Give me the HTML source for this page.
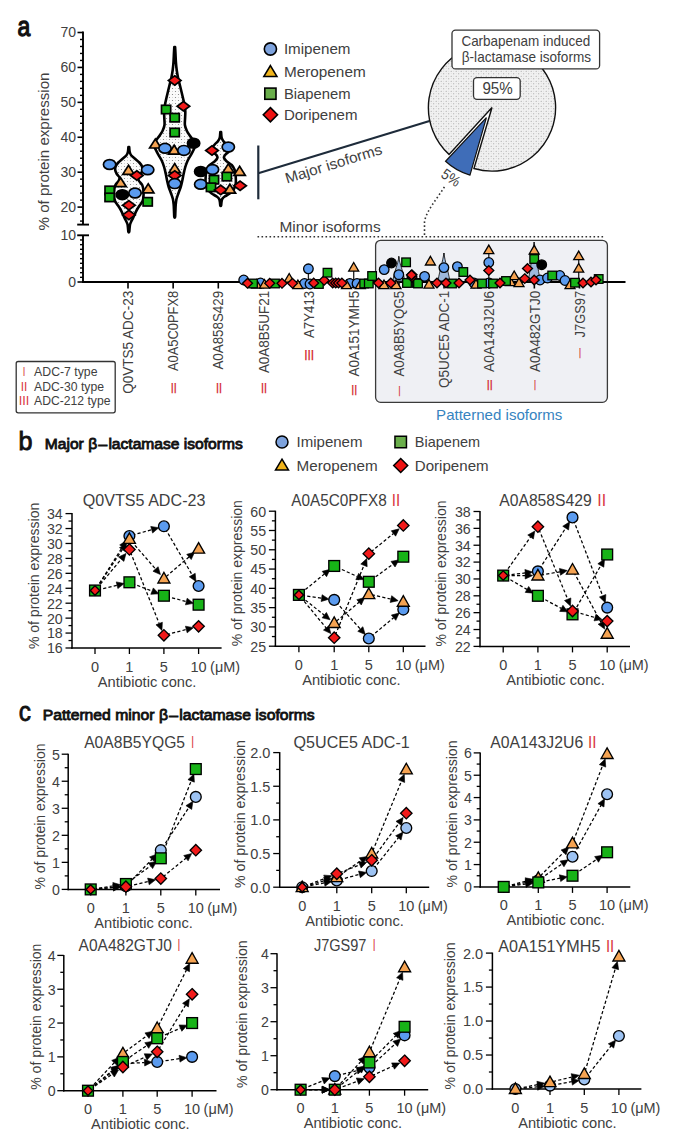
<!DOCTYPE html><html><head><meta charset="utf-8"><style>html,body{margin:0;padding:0;background:#fff;}svg{display:block;}text{font-family:"Liberation Sans",sans-serif;}</style></head><body>
<svg width="685" height="1140" viewBox="0 0 685 1140">
<defs><pattern id="vdots" width="6" height="6" patternUnits="userSpaceOnUse"><rect width="6" height="6" fill="#fbfbfb"/><circle cx="1.5" cy="1.5" r="0.6" fill="#7a7a7a"/><circle cx="4.5" cy="4.5" r="0.6" fill="#7a7a7a"/><circle cx="4.5" cy="1.5" r="0.45" fill="#b0b0b0"/><circle cx="1.5" cy="4.5" r="0.45" fill="#b0b0b0"/></pattern><pattern id="pdots" width="5" height="5" patternUnits="userSpaceOnUse"><rect width="5" height="5" fill="#f1f1f1"/><circle cx="1.2" cy="1.2" r="0.55" fill="#9a9a9a"/><circle cx="3.7" cy="3.7" r="0.55" fill="#9a9a9a"/><circle cx="3.7" cy="1.2" r="0.4" fill="#c4c4c4"/><circle cx="1.2" cy="3.7" r="0.4" fill="#c4c4c4"/></pattern></defs>
<rect width="685" height="1140" fill="#fff"/>
<rect x="375.6" y="240.3" width="231.8" height="162" rx="5" fill="#eff0f4" stroke="#3a3a3a" stroke-width="1.3"/>
<text x="436.1" y="419.9" font-size="14.8" fill="#3683c0" textLength="126.3" lengthAdjust="spacingAndGlyphs">Patterned isoforms</text>
<text x="17.6" y="36" font-size="28.5" fill="#111" textLength="12.8" lengthAdjust="spacingAndGlyphs" stroke="#111" stroke-width="1.3">a</text>
<line x1="257.5" y1="236.7" x2="605" y2="236.7" stroke="#333" stroke-width="1.6" stroke-dasharray="1.6,2.4"/>
<path d="M444.4,186.9 C437,199 426,211 424.5,222 L424.5,236" fill="none" stroke="#333" stroke-width="1.6" stroke-dasharray="1.6,2.4"/>
<text x="279.4" y="231.8" font-size="14.5" fill="#404040" textLength="101.3" lengthAdjust="spacingAndGlyphs">Minor isoforms</text>
<ellipse cx="270.4" cy="49" rx="6.1" ry="6.1" fill="#7ea3dd" stroke="#000" stroke-width="1.6"/>
<text x="283.9" y="54.2" font-size="14.7" fill="#404040" textLength="66.6" lengthAdjust="spacingAndGlyphs">Imipenem</text>
<polygon points="270.4,65.64 276.9,76.44 263.9,76.44" fill="#f0b41c" stroke="#000" stroke-width="1.6" stroke-linejoin="miter"/>
<text x="283.9" y="76.6" font-size="14.7" fill="#404040" textLength="81.8" lengthAdjust="spacingAndGlyphs">Meropenem</text>
<rect x="264.8" y="88.1" width="11.2" height="11.2" fill="#6aae4b" stroke="#000" stroke-width="1.6"/>
<text x="283.9" y="98.9" font-size="14.7" fill="#404040" textLength="66.6" lengthAdjust="spacingAndGlyphs">Biapenem</text>
<polygon points="270.4,107.6 277.5,114.7 270.4,121.8 263.3,114.7" fill="#ee1212" stroke="#000" stroke-width="1.6"/>
<text x="283.9" y="119.9" font-size="14.7" fill="#404040" textLength="73.6" lengthAdjust="spacingAndGlyphs">Doripenem</text>
<line x1="258.3" y1="145.5" x2="258.3" y2="199.3" stroke="#1e2b3a" stroke-width="2.2"/>
<line x1="258.3" y1="173.2" x2="429.5" y2="121" stroke="#1e2b3a" stroke-width="2.2"/>
<text x="287" y="183.5" font-size="14.8" fill="#404040" textLength="100.5" lengthAdjust="spacingAndGlyphs" transform="rotate(-17.2 287 183.5)">Major isoforms</text>
<path d="M492,107.5 L449.03,154.39 A63.6,63.6 0 1 1 473.94,168.48 Z" fill="url(#pdots)" stroke="#111" stroke-width="1.4" stroke-linejoin="miter"/>
<path d="M486.4,117.6 L445.56,161.28 A59.8,59.8 0 0 0 469.99,175.1 Z" fill="#3f6db8" stroke="#111" stroke-width="1.2" stroke-linejoin="miter"/>
<rect x="452.0" y="30.1" width="147.6" height="38.8" rx="3.5" fill="#fff" stroke="#333" stroke-width="1.3"/>
<text x="461.4" y="45.6" font-size="14.2" fill="#404040" textLength="128.9" lengthAdjust="spacingAndGlyphs">Carbapenam induced</text>
<text x="461.8" y="62.4" font-size="14.2" fill="#404040" textLength="129.2" lengthAdjust="spacingAndGlyphs">β-lactamase isoforms</text>
<rect x="473.5" y="77.6" width="46.7" height="21.7" rx="3.5" fill="#fff" stroke="#333" stroke-width="1.3"/>
<text x="482.4" y="93.9" font-size="16" fill="#404040" textLength="30.3" lengthAdjust="spacingAndGlyphs">95%</text>
<text x="440" y="176.5" font-size="15" fill="#404040" textLength="19.5" lengthAdjust="spacingAndGlyphs" transform="rotate(34 440 176.5)">5%</text>
<line x1="83" y1="31.6" x2="83" y2="224.6" stroke="#000" stroke-width="1.9"/>
<line x1="77.2" y1="224.6" x2="89" y2="224.6" stroke="#000" stroke-width="1.9"/>
<line x1="77.5" y1="32.5" x2="83" y2="32.5" stroke="#000" stroke-width="1.6"/>
<text x="76" y="37.4" font-size="14" fill="#404040" text-anchor="end" textLength="15.6" lengthAdjust="spacingAndGlyphs">70</text>
<line x1="80" y1="39.48" x2="83" y2="39.48" stroke="#000" stroke-width="1.4"/>
<line x1="80" y1="46.47" x2="83" y2="46.47" stroke="#000" stroke-width="1.4"/>
<line x1="80" y1="53.45" x2="83" y2="53.45" stroke="#000" stroke-width="1.4"/>
<line x1="80" y1="60.44" x2="83" y2="60.44" stroke="#000" stroke-width="1.4"/>
<line x1="77.5" y1="67.42" x2="83" y2="67.42" stroke="#000" stroke-width="1.6"/>
<text x="76" y="72.32" font-size="14" fill="#404040" text-anchor="end" textLength="15.6" lengthAdjust="spacingAndGlyphs">60</text>
<line x1="80" y1="74.4" x2="83" y2="74.4" stroke="#000" stroke-width="1.4"/>
<line x1="80" y1="81.39" x2="83" y2="81.39" stroke="#000" stroke-width="1.4"/>
<line x1="80" y1="88.37" x2="83" y2="88.37" stroke="#000" stroke-width="1.4"/>
<line x1="80" y1="95.36" x2="83" y2="95.36" stroke="#000" stroke-width="1.4"/>
<line x1="77.5" y1="102.34" x2="83" y2="102.34" stroke="#000" stroke-width="1.6"/>
<text x="76" y="107.24" font-size="14" fill="#404040" text-anchor="end" textLength="15.6" lengthAdjust="spacingAndGlyphs">50</text>
<line x1="80" y1="109.32" x2="83" y2="109.32" stroke="#000" stroke-width="1.4"/>
<line x1="80" y1="116.31" x2="83" y2="116.31" stroke="#000" stroke-width="1.4"/>
<line x1="80" y1="123.29" x2="83" y2="123.29" stroke="#000" stroke-width="1.4"/>
<line x1="80" y1="130.28" x2="83" y2="130.28" stroke="#000" stroke-width="1.4"/>
<line x1="77.5" y1="137.26" x2="83" y2="137.26" stroke="#000" stroke-width="1.6"/>
<text x="76" y="142.16" font-size="14" fill="#404040" text-anchor="end" textLength="15.6" lengthAdjust="spacingAndGlyphs">40</text>
<line x1="80" y1="144.24" x2="83" y2="144.24" stroke="#000" stroke-width="1.4"/>
<line x1="80" y1="151.23" x2="83" y2="151.23" stroke="#000" stroke-width="1.4"/>
<line x1="80" y1="158.21" x2="83" y2="158.21" stroke="#000" stroke-width="1.4"/>
<line x1="80" y1="165.2" x2="83" y2="165.2" stroke="#000" stroke-width="1.4"/>
<line x1="77.5" y1="172.18" x2="83" y2="172.18" stroke="#000" stroke-width="1.6"/>
<text x="76" y="177.08" font-size="14" fill="#404040" text-anchor="end" textLength="15.6" lengthAdjust="spacingAndGlyphs">30</text>
<line x1="80" y1="179.16" x2="83" y2="179.16" stroke="#000" stroke-width="1.4"/>
<line x1="80" y1="186.15" x2="83" y2="186.15" stroke="#000" stroke-width="1.4"/>
<line x1="80" y1="193.13" x2="83" y2="193.13" stroke="#000" stroke-width="1.4"/>
<line x1="80" y1="200.12" x2="83" y2="200.12" stroke="#000" stroke-width="1.4"/>
<line x1="77.5" y1="207.1" x2="83" y2="207.1" stroke="#000" stroke-width="1.6"/>
<text x="76" y="212" font-size="14" fill="#404040" text-anchor="end" textLength="15.6" lengthAdjust="spacingAndGlyphs">20</text>
<line x1="80" y1="214.08" x2="83" y2="214.08" stroke="#000" stroke-width="1.4"/>
<line x1="80" y1="221.07" x2="83" y2="221.07" stroke="#000" stroke-width="1.4"/>
<line x1="83" y1="235.3" x2="83" y2="282.9" stroke="#000" stroke-width="1.9"/>
<line x1="77.2" y1="235.3" x2="89" y2="235.3" stroke="#000" stroke-width="1.9"/>
<line x1="80" y1="277.33" x2="83" y2="277.33" stroke="#000" stroke-width="1.4"/>
<line x1="80" y1="272.66" x2="83" y2="272.66" stroke="#000" stroke-width="1.4"/>
<line x1="80" y1="267.99" x2="83" y2="267.99" stroke="#000" stroke-width="1.4"/>
<line x1="80" y1="263.32" x2="83" y2="263.32" stroke="#000" stroke-width="1.4"/>
<line x1="80" y1="258.65" x2="83" y2="258.65" stroke="#000" stroke-width="1.4"/>
<line x1="80" y1="253.98" x2="83" y2="253.98" stroke="#000" stroke-width="1.4"/>
<line x1="80" y1="249.31" x2="83" y2="249.31" stroke="#000" stroke-width="1.4"/>
<line x1="80" y1="244.64" x2="83" y2="244.64" stroke="#000" stroke-width="1.4"/>
<line x1="80" y1="239.97" x2="83" y2="239.97" stroke="#000" stroke-width="1.4"/>
<line x1="77.5" y1="282" x2="83" y2="282" stroke="#000" stroke-width="1.6"/>
<text x="76" y="240.2" font-size="14" fill="#404040" text-anchor="end" textLength="15.6" lengthAdjust="spacingAndGlyphs">10</text>
<text x="76" y="286.9" font-size="14" fill="#404040" text-anchor="end" textLength="7.8" lengthAdjust="spacingAndGlyphs">0</text>
<text x="48.6" y="151.5" font-size="15" fill="#404040" text-anchor="middle" textLength="158" lengthAdjust="spacingAndGlyphs" transform="rotate(-90 48.6 151.5)">% of protein expression</text>
<line x1="82" y1="282" x2="625.5" y2="282" stroke="#000" stroke-width="1.9"/>
<line x1="128" y1="282" x2="128" y2="288.5" stroke="#000" stroke-width="1.6"/>
<text x="133.2" y="290.8" font-size="14.3" fill="#404040" text-anchor="end" textLength="103" lengthAdjust="spacingAndGlyphs" transform="rotate(-90 133.2 290.8)">Q0VTS5 ADC-23</text>
<line x1="173.15" y1="282" x2="173.15" y2="288.5" stroke="#000" stroke-width="1.6"/>
<text x="178.35" y="290.8" font-size="14.3" fill="#404040" text-anchor="end" textLength="80.3" lengthAdjust="spacingAndGlyphs" transform="rotate(-90 178.35 290.8)">A0A5C0PFX8</text>
<text x="173.75" y="393.3" font-size="13.8" fill="#d42a2e" text-anchor="middle" textLength="6" lengthAdjust="spacingAndGlyphs" stroke="#d42a2e" stroke-width="0.25">II</text>
<line x1="218.3" y1="282" x2="218.3" y2="288.5" stroke="#000" stroke-width="1.6"/>
<text x="223.5" y="290.8" font-size="14.3" fill="#404040" text-anchor="end" textLength="78.8" lengthAdjust="spacingAndGlyphs" transform="rotate(-90 223.5 290.8)">A0A858S429</text>
<text x="218.9" y="393.3" font-size="13.8" fill="#d42a2e" text-anchor="middle" textLength="6" lengthAdjust="spacingAndGlyphs" stroke="#d42a2e" stroke-width="0.25">II</text>
<line x1="263.45" y1="282" x2="263.45" y2="288.5" stroke="#000" stroke-width="1.6"/>
<text x="268.65" y="290.8" font-size="14.3" fill="#404040" text-anchor="end" textLength="82.3" lengthAdjust="spacingAndGlyphs" transform="rotate(-90 268.65 290.8)">A0A8B5UF21</text>
<text x="264.05" y="393.4" font-size="13.8" fill="#d42a2e" text-anchor="middle" textLength="6" lengthAdjust="spacingAndGlyphs" stroke="#d42a2e" stroke-width="0.25">II</text>
<line x1="308.6" y1="282" x2="308.6" y2="288.5" stroke="#000" stroke-width="1.6"/>
<text x="313.8" y="290.8" font-size="14.3" fill="#404040" text-anchor="end" textLength="47.3" lengthAdjust="spacingAndGlyphs" transform="rotate(-90 313.8 290.8)">A7Y413</text>
<text x="309.2" y="360.2" font-size="13.8" fill="#d42a2e" text-anchor="middle" textLength="10" lengthAdjust="spacingAndGlyphs" stroke="#d42a2e" stroke-width="0.25">III</text>
<line x1="353.75" y1="282" x2="353.75" y2="288.5" stroke="#000" stroke-width="1.6"/>
<text x="358.95" y="290.8" font-size="14.3" fill="#404040" text-anchor="end" textLength="85.8" lengthAdjust="spacingAndGlyphs" transform="rotate(-90 358.95 290.8)">A0A151YMH5</text>
<text x="354.35" y="394.9" font-size="13.8" fill="#d42a2e" text-anchor="middle" textLength="6" lengthAdjust="spacingAndGlyphs" stroke="#d42a2e" stroke-width="0.25">II</text>
<line x1="398.9" y1="282" x2="398.9" y2="288.5" stroke="#000" stroke-width="1.6"/>
<text x="404.1" y="290.8" font-size="14.3" fill="#404040" text-anchor="end" textLength="85.8" lengthAdjust="spacingAndGlyphs" transform="rotate(-90 404.1 290.8)">A0A8B5YQG5</text>
<text x="399.5" y="396" font-size="13.8" fill="#d42a2e" text-anchor="middle" textLength="2" lengthAdjust="spacingAndGlyphs" stroke="#d42a2e" stroke-width="0.25">I</text>
<line x1="444.05" y1="282" x2="444.05" y2="288.5" stroke="#000" stroke-width="1.6"/>
<text x="449.25" y="290.8" font-size="14.3" fill="#404040" text-anchor="end" textLength="97.2" lengthAdjust="spacingAndGlyphs" transform="rotate(-90 449.25 290.8)">Q5UCE5 ADC-1</text>
<line x1="489.2" y1="282" x2="489.2" y2="288.5" stroke="#000" stroke-width="1.6"/>
<text x="494.4" y="290.8" font-size="14.3" fill="#404040" text-anchor="end" textLength="81.2" lengthAdjust="spacingAndGlyphs" transform="rotate(-90 494.4 290.8)">A0A143J2U6</text>
<text x="489.8" y="389.9" font-size="13.8" fill="#d42a2e" text-anchor="middle" textLength="6" lengthAdjust="spacingAndGlyphs" stroke="#d42a2e" stroke-width="0.25">II</text>
<line x1="534.35" y1="282" x2="534.35" y2="288.5" stroke="#000" stroke-width="1.6"/>
<text x="539.55" y="290.8" font-size="14.3" fill="#404040" text-anchor="end" textLength="81.2" lengthAdjust="spacingAndGlyphs" transform="rotate(-90 539.55 290.8)">A0A482GTJ0</text>
<text x="534.95" y="389.9" font-size="13.8" fill="#d42a2e" text-anchor="middle" textLength="2" lengthAdjust="spacingAndGlyphs" stroke="#d42a2e" stroke-width="0.25">I</text>
<line x1="579.5" y1="282" x2="579.5" y2="288.5" stroke="#000" stroke-width="1.6"/>
<text x="584.7" y="290.8" font-size="14.3" fill="#404040" text-anchor="end" textLength="46.6" lengthAdjust="spacingAndGlyphs" transform="rotate(-90 584.7 290.8)">J7GS97</text>
<text x="580.1" y="357.7" font-size="13.8" fill="#d42a2e" text-anchor="middle" textLength="2" lengthAdjust="spacingAndGlyphs" stroke="#d42a2e" stroke-width="0.25">I</text>
<rect x="16.2" y="361.5" width="99" height="51.3" rx="2" fill="#fff" stroke="#333" stroke-width="1.3"/>
<text x="24" y="375.9" font-size="12" fill="#d9363e" text-anchor="middle" textLength="2.6" lengthAdjust="spacingAndGlyphs">I</text>
<text x="34.1" y="375.9" font-size="12.3" fill="#404040" textLength="63.4" lengthAdjust="spacingAndGlyphs">ADC-7 type</text>
<text x="24" y="390.6" font-size="12" fill="#d9363e" text-anchor="middle" textLength="6.6" lengthAdjust="spacingAndGlyphs">II</text>
<text x="34.1" y="390.6" font-size="12.3" fill="#404040" textLength="69.9" lengthAdjust="spacingAndGlyphs">ADC-30 type</text>
<text x="24" y="405.3" font-size="12" fill="#d9363e" text-anchor="middle" textLength="10.6" lengthAdjust="spacingAndGlyphs">III</text>
<text x="34.1" y="405.3" font-size="12.3" fill="#404040" textLength="76.3" lengthAdjust="spacingAndGlyphs">ADC-212 type</text>
<path d="M129.2,147 C129.28,147.83 129.35,150.58 129.7,152 C130.05,153.42 130.37,154.33 131.3,155.5 C132.23,156.67 133.97,157.83 135.3,159 C136.63,160.17 138.22,161.33 139.3,162.5 C140.38,163.67 141.28,164.75 141.8,166 C142.32,167.25 142.57,168.67 142.4,170 C142.23,171.33 141.52,172.75 140.8,174 C140.08,175.25 138.4,176.33 138.1,177.5 C137.8,178.67 138.32,179.75 139,181 C139.68,182.25 141.47,183.5 142.2,185 C142.93,186.5 143.18,188.17 143.4,190 C143.62,191.83 143.63,194.17 143.5,196 C143.37,197.83 143.25,199.42 142.6,201 C141.95,202.58 140.57,204 139.6,205.5 C138.63,207 137.67,208.42 136.8,210 C135.93,211.58 135.2,213.33 134.4,215 C133.6,216.67 132.7,218.5 132,220 C131.3,221.5 130.6,222.67 130.2,224 C129.8,225.33 129.77,226.67 129.6,228 C129.43,229.33 129.4,231.33 129.2,232 C129,232.67 128.6,232.67 128.4,232 C128.2,231.33 128.17,229.33 128,228 C127.83,226.67 127.8,225.33 127.4,224 C127,222.67 126.3,221.5 125.6,220 C124.9,218.5 124,216.67 123.2,215 C122.4,213.33 121.67,211.58 120.8,210 C119.93,208.42 118.97,207 118,205.5 C117.03,204 115.65,202.58 115,201 C114.35,199.42 114.23,197.83 114.1,196 C113.97,194.17 113.98,191.83 114.2,190 C114.42,188.17 114.67,186.5 115.4,185 C116.13,183.5 117.92,182.25 118.6,181 C119.28,179.75 119.8,178.67 119.5,177.5 C119.2,176.33 117.52,175.25 116.8,174 C116.08,172.75 115.37,171.33 115.2,170 C115.03,168.67 115.28,167.25 115.8,166 C116.32,164.75 117.22,163.67 118.3,162.5 C119.38,161.33 120.97,160.17 122.3,159 C123.63,157.83 125.37,156.67 126.3,155.5 C127.23,154.33 127.55,153.42 127.9,152 C128.25,150.58 128.32,147.83 128.4,147 Z" fill="url(#vdots)" stroke="#000" stroke-width="2.6" stroke-linejoin="round"/>
<path d="M175.1,47 C175.17,48.17 175.37,51.5 175.5,54 C175.63,56.5 175.7,59.33 175.9,62 C176.1,64.67 176.33,67.33 176.7,70 C177.07,72.67 177.53,75.33 178.1,78 C178.67,80.67 179.37,83 180.1,86 C180.83,89 181.8,93 182.5,96 C183.2,99 183.83,101.5 184.3,104 C184.77,106.5 185.17,108.67 185.3,111 C185.43,113.33 185.17,115.67 185.1,118 C185.03,120.33 184.6,122.83 184.9,125 C185.2,127.17 186.03,129.17 186.9,131 C187.77,132.83 188.97,134.33 190.1,136 C191.23,137.67 192.85,139.42 193.7,141 C194.55,142.58 195.23,144 195.2,145.5 C195.17,147 194.22,148.42 193.5,150 C192.78,151.58 191.9,153.17 190.9,155 C189.9,156.83 188.43,159 187.5,161 C186.57,163 185.95,164.83 185.3,167 C184.65,169.17 184.12,171.67 183.6,174 C183.08,176.33 182.68,178.83 182.2,181 C181.72,183.17 181.32,185 180.7,187 C180.08,189 179.2,191 178.5,193 C177.8,195 176.97,197 176.5,199 C176.03,201 175.88,203 175.7,205 C175.52,207 175.5,209 175.4,211 C175.3,213 175.28,216 175.1,217 C174.92,218 174.48,218 174.3,217 C174.12,216 174.1,213 174,211 C173.9,209 173.88,207 173.7,205 C173.52,203 173.37,201 172.9,199 C172.43,197 171.6,195 170.9,193 C170.2,191 169.32,189 168.7,187 C168.08,185 167.68,183.17 167.2,181 C166.72,178.83 166.32,176.33 165.8,174 C165.28,171.67 164.75,169.17 164.1,167 C163.45,164.83 162.83,163 161.9,161 C160.97,159 159.5,156.83 158.5,155 C157.5,153.17 156.62,151.58 155.9,150 C155.18,148.42 154.23,147 154.2,145.5 C154.17,144 154.85,142.58 155.7,141 C156.55,139.42 158.17,137.67 159.3,136 C160.43,134.33 161.63,132.83 162.5,131 C163.37,129.17 164.2,127.17 164.5,125 C164.8,122.83 164.37,120.33 164.3,118 C164.23,115.67 163.97,113.33 164.1,111 C164.23,108.67 164.63,106.5 165.1,104 C165.57,101.5 166.2,99 166.9,96 C167.6,93 168.57,89 169.3,86 C170.03,83 170.73,80.67 171.3,78 C171.87,75.33 172.33,72.67 172.7,70 C173.07,67.33 173.3,64.67 173.5,62 C173.7,59.33 173.77,56.5 173.9,54 C174.03,51.5 174.23,48.17 174.3,47 Z" fill="url(#vdots)" stroke="#000" stroke-width="2.6" stroke-linejoin="round"/>
<path d="M221.1,132 C221.18,132.92 221.23,136 221.6,137.5 C221.97,139 222.45,139.83 223.3,141 C224.15,142.17 225.73,143.33 226.7,144.5 C227.67,145.67 228.77,146.83 229.1,148 C229.43,149.17 229.3,150.42 228.7,151.5 C228.1,152.58 226.3,153.5 225.5,154.5 C224.7,155.5 223.77,156.42 223.9,157.5 C224.03,158.58 225,159.75 226.3,161 C227.6,162.25 230.3,163.5 231.7,165 C233.1,166.5 234.03,168.17 234.7,170 C235.37,171.83 235.53,173.67 235.7,176 C235.87,178.33 236.03,181.75 235.7,184 C235.37,186.25 234.7,187.92 233.7,189.5 C232.7,191.08 231.2,192.33 229.7,193.5 C228.2,194.67 225.95,195.58 224.7,196.5 C223.45,197.42 222.73,198.08 222.2,199 C221.67,199.92 221.68,200.92 221.5,202 C221.32,203.08 221.3,204.92 221.1,205.5 C220.9,206.08 220.5,206.08 220.3,205.5 C220.1,204.92 220.08,203.08 219.9,202 C219.72,200.92 219.73,199.92 219.2,199 C218.67,198.08 217.95,197.42 216.7,196.5 C215.45,195.58 213.2,194.67 211.7,193.5 C210.2,192.33 208.7,191.08 207.7,189.5 C206.7,187.92 206.03,186.25 205.7,184 C205.37,181.75 205.53,178.33 205.7,176 C205.87,173.67 206.03,171.83 206.7,170 C207.37,168.17 208.3,166.5 209.7,165 C211.1,163.5 213.8,162.25 215.1,161 C216.4,159.75 217.37,158.58 217.5,157.5 C217.63,156.42 216.7,155.5 215.9,154.5 C215.1,153.5 213.3,152.58 212.7,151.5 C212.1,150.42 211.97,149.17 212.3,148 C212.63,146.83 213.73,145.67 214.7,144.5 C215.67,143.33 217.25,142.17 218.1,141 C218.95,139.83 219.43,139 219.8,137.5 C220.17,136 220.22,132.92 220.3,132 Z" fill="url(#vdots)" stroke="#000" stroke-width="2.6" stroke-linejoin="round"/>
<ellipse cx="109.6" cy="164.5" rx="6.15" ry="4.9" fill="#5b9bef" stroke="#000" stroke-width="1.7"/>
<ellipse cx="147.7" cy="169.8" rx="6.15" ry="4.9" fill="#5b9bef" stroke="#000" stroke-width="1.7"/>
<polygon points="128.5,165.28 134.2,174.28 122.8,174.28" fill="#f5a352" stroke="#000" stroke-width="1.7" stroke-linejoin="miter"/>
<polygon points="136.8,170.8 143.1,175.5 136.8,180.2 130.5,175.5" fill="#f21a1a" stroke="#000" stroke-width="1.7"/>
<polygon points="120.6,177.68 126.3,186.68 114.9,186.68" fill="#f5a352" stroke="#000" stroke-width="1.7" stroke-linejoin="miter"/>
<polygon points="148.2,183.78 153.9,192.78 142.5,192.78" fill="#f5a352" stroke="#000" stroke-width="1.7" stroke-linejoin="miter"/>
<rect x="105" y="186.2" width="9.2" height="8.4" fill="#17b317" stroke="#000" stroke-width="1.7"/>
<rect x="105" y="193.2" width="9.2" height="8.4" fill="#17b317" stroke="#000" stroke-width="1.7"/>
<ellipse cx="122.3" cy="194.7" rx="6.15" ry="4.9" fill="#000000" stroke="#000" stroke-width="1.7"/>
<ellipse cx="135" cy="193" rx="6.15" ry="4.9" fill="#5b9bef" stroke="#000" stroke-width="1.7"/>
<rect x="143.1" y="197.6" width="9.2" height="8.4" fill="#17b317" stroke="#000" stroke-width="1.7"/>
<polygon points="128.9,200.6 135.2,205.3 128.9,210 122.6,205.3" fill="#f21a1a" stroke="#000" stroke-width="1.7"/>
<polygon points="128.9,210.2 135.2,214.9 128.9,219.6 122.6,214.9" fill="#f21a1a" stroke="#000" stroke-width="1.7"/>
<polygon points="174.7,75.7 181,80.4 174.7,85.1 168.4,80.4" fill="#f21a1a" stroke="#000" stroke-width="1.7"/>
<polygon points="183.4,101.5 189.7,106.2 183.4,110.9 177.1,106.2" fill="#f21a1a" stroke="#000" stroke-width="1.7"/>
<rect x="161.5" y="105.3" width="9.2" height="8.4" fill="#17b317" stroke="#000" stroke-width="1.7"/>
<rect x="170.1" y="113.5" width="9.2" height="8.4" fill="#17b317" stroke="#000" stroke-width="1.7"/>
<rect x="170.1" y="128.3" width="9.2" height="8.4" fill="#17b317" stroke="#000" stroke-width="1.7"/>
<polygon points="155.3,138.98 161,147.98 149.6,147.98" fill="#f5a352" stroke="#000" stroke-width="1.7" stroke-linejoin="miter"/>
<ellipse cx="165" cy="148.3" rx="6.15" ry="4.9" fill="#5b9bef" stroke="#000" stroke-width="1.7"/>
<polygon points="174.2,145.18 179.9,154.18 168.5,154.18" fill="#f5a352" stroke="#000" stroke-width="1.7" stroke-linejoin="miter"/>
<ellipse cx="183.9" cy="150.4" rx="6.15" ry="4.9" fill="#5b9bef" stroke="#000" stroke-width="1.7"/>
<ellipse cx="193.6" cy="143.2" rx="6.15" ry="4.9" fill="#000000" stroke="#000" stroke-width="1.7"/>
<polygon points="174.7,163.58 180.4,172.58 169,172.58" fill="#f5a352" stroke="#000" stroke-width="1.7" stroke-linejoin="miter"/>
<polygon points="174.7,170.7 181,175.4 174.7,180.1 168.4,175.4" fill="#f21a1a" stroke="#000" stroke-width="1.7"/>
<ellipse cx="174.7" cy="183.6" rx="6.15" ry="4.9" fill="#5b9bef" stroke="#000" stroke-width="1.7"/>
<polygon points="212,145.8 218.3,150.5 212,155.2 205.7,150.5" fill="#f21a1a" stroke="#000" stroke-width="1.7"/>
<ellipse cx="228.3" cy="147" rx="6.15" ry="4.9" fill="#5b9bef" stroke="#000" stroke-width="1.7"/>
<ellipse cx="200.7" cy="171.5" rx="6.15" ry="4.9" fill="#000000" stroke="#000" stroke-width="1.7"/>
<ellipse cx="212.5" cy="169.5" rx="6.15" ry="4.9" fill="#5b9bef" stroke="#000" stroke-width="1.7"/>
<polygon points="228.3,163.78 234,172.78 222.6,172.78" fill="#f5a352" stroke="#000" stroke-width="1.7" stroke-linejoin="miter"/>
<polygon points="239.6,166.28 245.3,175.28 233.9,175.28" fill="#f5a352" stroke="#000" stroke-width="1.7" stroke-linejoin="miter"/>
<rect x="222.2" y="172.4" width="9.2" height="8.4" fill="#17b317" stroke="#000" stroke-width="1.7"/>
<rect x="209.4" y="175.5" width="9.2" height="8.4" fill="#17b317" stroke="#000" stroke-width="1.7"/>
<ellipse cx="200.7" cy="184.3" rx="6.15" ry="4.9" fill="#5b9bef" stroke="#000" stroke-width="1.7"/>
<rect x="206.4" y="183.1" width="9.2" height="8.4" fill="#17b317" stroke="#000" stroke-width="1.7"/>
<polygon points="220.7,185.2 227,189.9 220.7,194.6 214.4,189.9" fill="#f21a1a" stroke="#000" stroke-width="1.7"/>
<polygon points="229.9,184.18 235.6,193.18 224.2,193.18" fill="#f5a352" stroke="#000" stroke-width="1.7" stroke-linejoin="miter"/>
<polygon points="240.1,181.1 246.4,185.8 240.1,190.5 233.8,185.8" fill="#f21a1a" stroke="#000" stroke-width="1.7"/>
<line x1="308.4" y1="268.8" x2="308.4" y2="284" stroke="#222" stroke-width="1.3"/>
<line x1="353.7" y1="267.5" x2="353.7" y2="284" stroke="#222" stroke-width="1.3"/>
<line x1="398.8" y1="256" x2="398.8" y2="284" stroke="#222" stroke-width="1.3"/>
<line x1="443.9" y1="253" x2="443.9" y2="284" stroke="#222" stroke-width="1.3"/>
<line x1="488.8" y1="246" x2="488.8" y2="284" stroke="#222" stroke-width="1.3"/>
<line x1="534.2" y1="242" x2="534.2" y2="284" stroke="#222" stroke-width="1.3"/>
<line x1="578.7" y1="252" x2="578.7" y2="284" stroke="#222" stroke-width="1.3"/>
<path d="M398.8,257 C399.8,265 402.8,269.43 404.8,281 L392.8,281 C394.8,269.43 397.8,265 398.8,257 Z" fill="#9db8dc" stroke="#222" stroke-width="0.9"/>
<path d="M443.9,253 C444.9,261 447.9,269.57 449.9,281 L437.9,281 C439.9,269.57 442.9,261 443.9,253 Z" fill="#9db8dc" stroke="#222" stroke-width="0.9"/>
<path d="M534.2,242 C535.2,250 538.2,269.93 540.2,281 L528.2,281 C530.2,269.93 533.2,250 534.2,242 Z" fill="#9db8dc" stroke="#222" stroke-width="0.9"/>
<ellipse cx="243.7" cy="280" rx="4.8" ry="4.8" fill="#5b9bef" stroke="#000" stroke-width="1.3"/>
<ellipse cx="260.5" cy="283" rx="4.8" ry="4.8" fill="#5b9bef" stroke="#000" stroke-width="1.3"/>
<ellipse cx="304.5" cy="283.5" rx="4.8" ry="4.8" fill="#5b9bef" stroke="#000" stroke-width="1.3"/>
<ellipse cx="310" cy="284" rx="4.8" ry="4.8" fill="#5b9bef" stroke="#000" stroke-width="1.3"/>
<ellipse cx="349.8" cy="283.5" rx="4.8" ry="4.8" fill="#5b9bef" stroke="#000" stroke-width="1.3"/>
<ellipse cx="357" cy="283.5" rx="4.8" ry="4.8" fill="#5b9bef" stroke="#000" stroke-width="1.3"/>
<ellipse cx="474" cy="283" rx="4.8" ry="4.8" fill="#5b9bef" stroke="#000" stroke-width="1.3"/>
<ellipse cx="489" cy="283" rx="4.8" ry="4.8" fill="#5b9bef" stroke="#000" stroke-width="1.3"/>
<ellipse cx="540" cy="280" rx="4.8" ry="4.8" fill="#5b9bef" stroke="#000" stroke-width="1.3"/>
<ellipse cx="547.5" cy="278" rx="4.8" ry="4.8" fill="#5b9bef" stroke="#000" stroke-width="1.3"/>
<ellipse cx="559.8" cy="275.5" rx="4.8" ry="4.8" fill="#5b9bef" stroke="#000" stroke-width="1.3"/>
<ellipse cx="565" cy="280.5" rx="4.8" ry="4.8" fill="#5b9bef" stroke="#000" stroke-width="1.3"/>
<polygon points="256.5,279.51 261.5,288.11 251.5,288.11" fill="#f5a352" stroke="#000" stroke-width="1.3" stroke-linejoin="miter"/>
<polygon points="264.5,279.51 269.5,288.11 259.5,288.11" fill="#f5a352" stroke="#000" stroke-width="1.3" stroke-linejoin="miter"/>
<polygon points="289.2,273.51 294.2,282.11 284.2,282.11" fill="#f5a352" stroke="#000" stroke-width="1.3" stroke-linejoin="miter"/>
<polygon points="297.9,280.01 302.9,288.61 292.9,288.61" fill="#f5a352" stroke="#000" stroke-width="1.3" stroke-linejoin="miter"/>
<polygon points="346.5,280.01 351.5,288.61 341.5,288.61" fill="#f5a352" stroke="#000" stroke-width="1.3" stroke-linejoin="miter"/>
<polygon points="360.3,280.01 365.3,288.61 355.3,288.61" fill="#f5a352" stroke="#000" stroke-width="1.3" stroke-linejoin="miter"/>
<polygon points="384,280.01 389,288.61 379,288.61" fill="#f5a352" stroke="#000" stroke-width="1.3" stroke-linejoin="miter"/>
<polygon points="396,280.01 401,288.61 391,288.61" fill="#f5a352" stroke="#000" stroke-width="1.3" stroke-linejoin="miter"/>
<polygon points="429,279.51 434,288.11 424,288.11" fill="#f5a352" stroke="#000" stroke-width="1.3" stroke-linejoin="miter"/>
<polygon points="476,279.51 481,288.11 471,288.11" fill="#f5a352" stroke="#000" stroke-width="1.3" stroke-linejoin="miter"/>
<polygon points="510.5,277.01 515.5,285.61 505.5,285.61" fill="#f5a352" stroke="#000" stroke-width="1.3" stroke-linejoin="miter"/>
<polygon points="514.2,271.01 519.2,279.61 509.2,279.61" fill="#f5a352" stroke="#000" stroke-width="1.3" stroke-linejoin="miter"/>
<polygon points="519,278.01 524,286.61 514,286.61" fill="#f5a352" stroke="#000" stroke-width="1.3" stroke-linejoin="miter"/>
<polygon points="570,280.01 575,288.61 565,288.61" fill="#f5a352" stroke="#000" stroke-width="1.3" stroke-linejoin="miter"/>
<rect x="248.7" y="279.2" width="8.6" height="8.6" fill="#17b317" stroke="#000" stroke-width="1.3"/>
<rect x="270.7" y="279.2" width="8.6" height="8.6" fill="#17b317" stroke="#000" stroke-width="1.3"/>
<rect x="314.6" y="279.7" width="8.6" height="8.6" fill="#17b317" stroke="#000" stroke-width="1.3"/>
<rect x="359.9" y="279.2" width="8.6" height="8.6" fill="#17b317" stroke="#000" stroke-width="1.3"/>
<rect x="364.5" y="279.2" width="8.6" height="8.6" fill="#17b317" stroke="#000" stroke-width="1.3"/>
<rect x="402.7" y="278.7" width="8.6" height="8.6" fill="#17b317" stroke="#000" stroke-width="1.3"/>
<rect x="412.7" y="278.7" width="8.6" height="8.6" fill="#17b317" stroke="#000" stroke-width="1.3"/>
<rect x="413.7" y="279.2" width="8.6" height="8.6" fill="#17b317" stroke="#000" stroke-width="1.3"/>
<rect x="447.7" y="279.2" width="8.6" height="8.6" fill="#17b317" stroke="#000" stroke-width="1.3"/>
<rect x="477.7" y="279.2" width="8.6" height="8.6" fill="#17b317" stroke="#000" stroke-width="1.3"/>
<rect x="488.7" y="279.2" width="8.6" height="8.6" fill="#17b317" stroke="#000" stroke-width="1.3"/>
<rect x="501.7" y="276.7" width="8.6" height="8.6" fill="#17b317" stroke="#000" stroke-width="1.3"/>
<rect x="547.9" y="271.2" width="8.6" height="8.6" fill="#17b317" stroke="#000" stroke-width="1.3"/>
<rect x="570.7" y="278.4" width="8.6" height="8.6" fill="#17b317" stroke="#000" stroke-width="1.3"/>
<rect x="594.4" y="274.7" width="8.6" height="8.6" fill="#17b317" stroke="#000" stroke-width="1.3"/>
<polygon points="247.5,278.5 252.5,283.3 247.5,288.1 242.5,283.3" fill="#f21a1a" stroke="#000" stroke-width="1.3"/>
<polygon points="269.7,278.5 274.7,283.3 269.7,288.1 264.7,283.3" fill="#f21a1a" stroke="#000" stroke-width="1.3"/>
<polygon points="282,278.5 287,283.3 282,288.1 277,283.3" fill="#f21a1a" stroke="#000" stroke-width="1.3"/>
<polygon points="292.5,278.5 297.5,283.3 292.5,288.1 287.5,283.3" fill="#f21a1a" stroke="#000" stroke-width="1.3"/>
<polygon points="313.7,278.2 318.7,283 313.7,287.8 308.7,283" fill="#f21a1a" stroke="#000" stroke-width="1.3"/>
<polygon points="324.2,275.5 329.2,280.3 324.2,285.1 319.2,280.3" fill="#f21a1a" stroke="#000" stroke-width="1.3"/>
<polygon points="332.7,278.2 337.7,283 332.7,287.8 327.7,283" fill="#f21a1a" stroke="#000" stroke-width="1.3"/>
<polygon points="335.7,278.2 340.7,283 335.7,287.8 330.7,283" fill="#f21a1a" stroke="#000" stroke-width="1.3"/>
<polygon points="338.5,278.2 343.5,283 338.5,287.8 333.5,283" fill="#f21a1a" stroke="#000" stroke-width="1.3"/>
<polygon points="341.9,278.2 346.9,283 341.9,287.8 336.9,283" fill="#f21a1a" stroke="#000" stroke-width="1.3"/>
<polygon points="378.5,278.2 383.5,283 378.5,287.8 373.5,283" fill="#f21a1a" stroke="#000" stroke-width="1.3"/>
<polygon points="390.8,278.2 395.8,283 390.8,287.8 385.8,283" fill="#f21a1a" stroke="#000" stroke-width="1.3"/>
<polygon points="412,272.2 417,277 412,281.8 407,277" fill="#f21a1a" stroke="#000" stroke-width="1.3"/>
<polygon points="437,278.2 442,283 437,287.8 432,283" fill="#f21a1a" stroke="#000" stroke-width="1.3"/>
<polygon points="446,278.2 451,283 446,287.8 441,283" fill="#f21a1a" stroke="#000" stroke-width="1.3"/>
<polygon points="459,278.2 464,283 459,287.8 454,283" fill="#f21a1a" stroke="#000" stroke-width="1.3"/>
<polygon points="470,275.2 475,280 470,284.8 465,280" fill="#f21a1a" stroke="#000" stroke-width="1.3"/>
<polygon points="500,278.2 505,283 500,287.8 495,283" fill="#f21a1a" stroke="#000" stroke-width="1.3"/>
<polygon points="524.7,273.8 529.7,278.6 524.7,283.4 519.7,278.6" fill="#f21a1a" stroke="#000" stroke-width="1.3"/>
<polygon points="534.2,275.2 539.2,280 534.2,284.8 529.2,280" fill="#f21a1a" stroke="#000" stroke-width="1.3"/>
<polygon points="583,278.2 588,283 583,287.8 578,283" fill="#f21a1a" stroke="#000" stroke-width="1.3"/>
<polygon points="591,277.2 596,282 591,286.8 586,282" fill="#f21a1a" stroke="#000" stroke-width="1.3"/>
<polygon points="596,275.2 601,280 596,284.8 591,280" fill="#f21a1a" stroke="#000" stroke-width="1.3"/>
<ellipse cx="308.4" cy="268.8" rx="4.8" ry="4.8" fill="#5b9bef" stroke="#000" stroke-width="1.3"/>
<polygon points="353.7,262.51 358.7,271.11 348.7,271.11" fill="#f5a352" stroke="#000" stroke-width="1.3" stroke-linejoin="miter"/>
<rect x="323.2" y="268.4" width="8.6" height="8.6" fill="#17b317" stroke="#000" stroke-width="1.3"/>
<rect x="367.8" y="271.7" width="8.6" height="8.6" fill="#17b317" stroke="#000" stroke-width="1.3"/>
<ellipse cx="384.2" cy="269.6" rx="4.8" ry="4.8" fill="#5b9bef" stroke="#000" stroke-width="1.3"/>
<ellipse cx="391.5" cy="263" rx="4.8" ry="4.8" fill="#000000" stroke="#000" stroke-width="1.3"/>
<rect x="401.8" y="258" width="8.6" height="8.6" fill="#17b317" stroke="#000" stroke-width="1.3"/>
<ellipse cx="398.8" cy="274.7" rx="4.8" ry="4.8" fill="#5b9bef" stroke="#000" stroke-width="1.3"/>
<polygon points="412,269.9 417,274.7 412,279.5 407,274.7" fill="#f21a1a" stroke="#000" stroke-width="1.3"/>
<polygon points="430.4,256.41 435.4,265.01 425.4,265.01" fill="#f5a352" stroke="#000" stroke-width="1.3" stroke-linejoin="miter"/>
<ellipse cx="443.9" cy="267.6" rx="4.8" ry="4.8" fill="#5b9bef" stroke="#000" stroke-width="1.3"/>
<ellipse cx="457.4" cy="266.6" rx="4.8" ry="4.8" fill="#5b9bef" stroke="#000" stroke-width="1.3"/>
<rect x="459" y="267.7" width="8.6" height="8.6" fill="#17b317" stroke="#000" stroke-width="1.3"/>
<ellipse cx="424.6" cy="276.4" rx="4.8" ry="4.8" fill="#5b9bef" stroke="#000" stroke-width="1.3"/>
<polygon points="411.5,270.2 416.5,275 411.5,279.8 406.5,275" fill="#f21a1a" stroke="#000" stroke-width="1.3"/>
<polygon points="488.8,245.11 493.8,253.71 483.8,253.71" fill="#f5a352" stroke="#000" stroke-width="1.3" stroke-linejoin="miter"/>
<ellipse cx="488.8" cy="262.5" rx="4.8" ry="4.8" fill="#5b9bef" stroke="#000" stroke-width="1.3"/>
<polygon points="488.8,265.7 493.8,270.5 488.8,275.3 483.8,270.5" fill="#f21a1a" stroke="#000" stroke-width="1.3"/>
<polygon points="534.2,245.41 539.2,254.01 529.2,254.01" fill="#f5a352" stroke="#000" stroke-width="1.3" stroke-linejoin="miter"/>
<rect x="529.9" y="254.7" width="8.6" height="8.6" fill="#17b317" stroke="#000" stroke-width="1.3"/>
<ellipse cx="541.7" cy="264.7" rx="4.8" ry="4.8" fill="#000000" stroke="#000" stroke-width="1.3"/>
<polygon points="527.5,263.7 532.5,268.5 527.5,273.3 522.5,268.5" fill="#f21a1a" stroke="#000" stroke-width="1.3"/>
<polygon points="578.7,251.11 583.7,259.71 573.7,259.71" fill="#f5a352" stroke="#000" stroke-width="1.3" stroke-linejoin="miter"/>
<polygon points="578.7,263.51 583.7,272.11 573.7,272.11" fill="#f5a352" stroke="#000" stroke-width="1.3" stroke-linejoin="miter"/>
<text x="18.6" y="449.6" font-size="25.5" fill="#111" textLength="14" lengthAdjust="spacingAndGlyphs" stroke="#111" stroke-width="0.9">b</text>
<text x="44.8" y="449.4" font-size="15.2" fill="#111" textLength="198" lengthAdjust="spacingAndGlyphs" stroke="#111" stroke-width="0.85">Major β – lactamase isoforms</text>
<ellipse cx="282" cy="442" rx="6" ry="6" fill="#7ea3dd" stroke="#000" stroke-width="1.5"/>
<polygon points="282,459.12 288.5,470.12 275.5,470.12" fill="#f0b41c" stroke="#000" stroke-width="1.5" stroke-linejoin="miter"/>
<rect x="394.95" y="436.25" width="11.5" height="11.5" fill="#6aae4b" stroke="#000" stroke-width="1.5"/>
<polygon points="400.7,458.5 407.7,465.5 400.7,472.5 393.7,465.5" fill="#ee1212" stroke="#000" stroke-width="1.5"/>
<text x="296.5" y="447" font-size="14.6" fill="#404040" textLength="66" lengthAdjust="spacingAndGlyphs">Imipenem</text>
<text x="296.5" y="470.5" font-size="14.6" fill="#404040" textLength="81.2" lengthAdjust="spacingAndGlyphs">Meropenem</text>
<text x="414.8" y="447" font-size="14.6" fill="#404040" textLength="65.3" lengthAdjust="spacingAndGlyphs">Biapenem</text>
<text x="414.8" y="470.5" font-size="14.6" fill="#404040" textLength="73.8" lengthAdjust="spacingAndGlyphs">Doripenem</text>
<text x="18.8" y="721.3" font-size="27.5" fill="#111" textLength="12.2" lengthAdjust="spacingAndGlyphs" stroke="#111" stroke-width="0.8">c</text>
<text x="42.7" y="719.8" font-size="15.2" fill="#111" textLength="272" lengthAdjust="spacingAndGlyphs" stroke="#111" stroke-width="0.85">Patterned minor β – lactamase isoforms</text>
<line x1="72" y1="513.1" x2="72" y2="648.8" stroke="#000" stroke-width="1.5"/>
<line x1="71.3" y1="648" x2="221.6" y2="648" stroke="#000" stroke-width="1.5"/>
<line x1="65.5" y1="648" x2="72" y2="648" stroke="#000" stroke-width="1.3"/>
<text x="62.7" y="653.4" font-size="15.3" fill="#404040" text-anchor="end" textLength="15.8" lengthAdjust="spacingAndGlyphs">16</text>
<line x1="68.5" y1="640.53" x2="72" y2="640.53" stroke="#000" stroke-width="1.3"/>
<line x1="65.5" y1="633.07" x2="72" y2="633.07" stroke="#000" stroke-width="1.3"/>
<text x="62.7" y="638.47" font-size="15.3" fill="#404040" text-anchor="end" textLength="15.8" lengthAdjust="spacingAndGlyphs">18</text>
<line x1="68.5" y1="625.6" x2="72" y2="625.6" stroke="#000" stroke-width="1.3"/>
<line x1="65.5" y1="618.13" x2="72" y2="618.13" stroke="#000" stroke-width="1.3"/>
<text x="62.7" y="623.53" font-size="15.3" fill="#404040" text-anchor="end" textLength="15.8" lengthAdjust="spacingAndGlyphs">20</text>
<line x1="68.5" y1="610.67" x2="72" y2="610.67" stroke="#000" stroke-width="1.3"/>
<line x1="65.5" y1="603.2" x2="72" y2="603.2" stroke="#000" stroke-width="1.3"/>
<text x="62.7" y="608.6" font-size="15.3" fill="#404040" text-anchor="end" textLength="15.8" lengthAdjust="spacingAndGlyphs">22</text>
<line x1="68.5" y1="595.73" x2="72" y2="595.73" stroke="#000" stroke-width="1.3"/>
<line x1="65.5" y1="588.27" x2="72" y2="588.27" stroke="#000" stroke-width="1.3"/>
<text x="62.7" y="593.67" font-size="15.3" fill="#404040" text-anchor="end" textLength="15.8" lengthAdjust="spacingAndGlyphs">24</text>
<line x1="68.5" y1="580.8" x2="72" y2="580.8" stroke="#000" stroke-width="1.3"/>
<line x1="65.5" y1="573.33" x2="72" y2="573.33" stroke="#000" stroke-width="1.3"/>
<text x="62.7" y="578.73" font-size="15.3" fill="#404040" text-anchor="end" textLength="15.8" lengthAdjust="spacingAndGlyphs">26</text>
<line x1="68.5" y1="565.87" x2="72" y2="565.87" stroke="#000" stroke-width="1.3"/>
<line x1="65.5" y1="558.4" x2="72" y2="558.4" stroke="#000" stroke-width="1.3"/>
<text x="62.7" y="563.8" font-size="15.3" fill="#404040" text-anchor="end" textLength="15.8" lengthAdjust="spacingAndGlyphs">28</text>
<line x1="68.5" y1="550.93" x2="72" y2="550.93" stroke="#000" stroke-width="1.3"/>
<line x1="65.5" y1="543.47" x2="72" y2="543.47" stroke="#000" stroke-width="1.3"/>
<text x="62.7" y="548.87" font-size="15.3" fill="#404040" text-anchor="end" textLength="15.8" lengthAdjust="spacingAndGlyphs">30</text>
<line x1="68.5" y1="536" x2="72" y2="536" stroke="#000" stroke-width="1.3"/>
<line x1="65.5" y1="528.53" x2="72" y2="528.53" stroke="#000" stroke-width="1.3"/>
<text x="62.7" y="533.93" font-size="15.3" fill="#404040" text-anchor="end" textLength="15.8" lengthAdjust="spacingAndGlyphs">32</text>
<line x1="68.5" y1="521.07" x2="72" y2="521.07" stroke="#000" stroke-width="1.3"/>
<line x1="65.5" y1="513.6" x2="72" y2="513.6" stroke="#000" stroke-width="1.3"/>
<text x="62.7" y="519" font-size="15.3" fill="#404040" text-anchor="end" textLength="15.8" lengthAdjust="spacingAndGlyphs">34</text>
<line x1="95" y1="648" x2="95" y2="654" stroke="#000" stroke-width="1.3"/>
<line x1="129.4" y1="648" x2="129.4" y2="654" stroke="#000" stroke-width="1.3"/>
<line x1="163.9" y1="648" x2="163.9" y2="654" stroke="#000" stroke-width="1.3"/>
<line x1="198.6" y1="648" x2="198.6" y2="654" stroke="#000" stroke-width="1.3"/>
<text x="95" y="671.5" font-size="14.5" fill="#404040" text-anchor="middle">0</text>
<text x="129.4" y="671.5" font-size="14.5" fill="#404040" text-anchor="middle">1</text>
<text x="163.9" y="671.5" font-size="14.5" fill="#404040" text-anchor="middle">5</text>
<text x="198.6" y="671.5" font-size="14.5" fill="#404040" text-anchor="middle">10</text>
<text x="210.1" y="671.5" font-size="14.5" fill="#404040" textLength="30" lengthAdjust="spacingAndGlyphs">(μM)</text>
<text x="147.1" y="686.5" font-size="14.5" fill="#404040" text-anchor="middle" textLength="98.5" lengthAdjust="spacingAndGlyphs">Antibiotic conc.</text>
<text x="38.6" y="575.9" font-size="14.5" fill="#404040" text-anchor="middle" textLength="146.3" lengthAdjust="spacingAndGlyphs" transform="rotate(-90 38.6 575.9)">% of protein expression</text>
<text x="82.8" y="506" font-size="16" fill="#404040" textLength="122.6" lengthAdjust="spacingAndGlyphs">Q0VTS5 ADC-23</text>
<line x1="96.6" y1="587.97" x2="122.62" y2="546.74" stroke="#000" stroke-width="1.25" stroke-dasharray="3.2,2.2"/>
<polygon points="126.57,540.48 125.54,548.58 119.7,544.9" fill="#000" stroke="#000" stroke-width="0.6"/>
<line x1="132.29" y1="535.19" x2="151.67" y2="529.73" stroke="#000" stroke-width="1.25" stroke-dasharray="3.2,2.2"/>
<polygon points="158.8,527.73 152.61,533.05 150.74,526.41" fill="#000" stroke="#000" stroke-width="0.6"/>
<line x1="165.41" y1="528.89" x2="192.22" y2="575.05" stroke="#000" stroke-width="1.25" stroke-dasharray="3.2,2.2"/>
<polygon points="195.94,581.44 189.24,576.78 195.2,573.31" fill="#000" stroke="#000" stroke-width="0.6"/>
<line x1="96.67" y1="588.01" x2="122.35" y2="549.55" stroke="#000" stroke-width="1.25" stroke-dasharray="3.2,2.2"/>
<polygon points="126.46,543.39 125.22,551.46 119.48,547.63" fill="#000" stroke="#000" stroke-width="0.6"/>
<line x1="131.37" y1="541.25" x2="155.55" y2="568.99" stroke="#000" stroke-width="1.25" stroke-dasharray="3.2,2.2"/>
<polygon points="160.42,574.57 152.95,571.25 158.15,566.72" fill="#000" stroke="#000" stroke-width="0.6"/>
<line x1="166.17" y1="576.6" x2="188.97" y2="556.98" stroke="#000" stroke-width="1.25" stroke-dasharray="3.2,2.2"/>
<polygon points="194.58,552.15 191.23,559.59 186.72,554.36" fill="#000" stroke="#000" stroke-width="0.6"/>
<line x1="97.92" y1="589.81" x2="117.05" y2="585.24" stroke="#000" stroke-width="1.25" stroke-dasharray="3.2,2.2"/>
<polygon points="124.24,583.52 117.85,588.6 116.25,581.89" fill="#000" stroke="#000" stroke-width="0.6"/>
<line x1="132.2" y1="583.38" x2="152.07" y2="591.12" stroke="#000" stroke-width="1.25" stroke-dasharray="3.2,2.2"/>
<polygon points="158.96,593.81 150.81,594.34 153.32,587.91" fill="#000" stroke="#000" stroke-width="0.6"/>
<line x1="166.8" y1="596.48" x2="186.3" y2="601.52" stroke="#000" stroke-width="1.25" stroke-dasharray="3.2,2.2"/>
<polygon points="193.47,603.37 185.44,604.86 187.17,598.18" fill="#000" stroke="#000" stroke-width="0.6"/>
<line x1="96.93" y1="588.21" x2="121.24" y2="559.18" stroke="#000" stroke-width="1.25" stroke-dasharray="3.2,2.2"/>
<polygon points="126,553.5 123.89,561.39 118.6,556.96" fill="#000" stroke="#000" stroke-width="0.6"/>
<line x1="130.52" y1="552.22" x2="159.17" y2="623.52" stroke="#000" stroke-width="1.25" stroke-dasharray="3.2,2.2"/>
<polygon points="161.92,630.39 155.96,624.81 162.37,622.24" fill="#000" stroke="#000" stroke-width="0.6"/>
<line x1="166.8" y1="634.56" x2="186.3" y2="629.52" stroke="#000" stroke-width="1.25" stroke-dasharray="3.2,2.2"/>
<polygon points="193.47,627.67 187.17,632.86 185.44,626.18" fill="#000" stroke="#000" stroke-width="0.6"/>
<rect x="89.6" y="585.11" width="10.8" height="10.8" fill="#17b317" stroke="#000" stroke-width="1.35"/>
<polygon points="95,585.81 99.7,590.51 95,595.21 90.3,590.51" fill="#f21a1a" stroke="#000" stroke-width="1.35"/>
<ellipse cx="129.4" cy="536" rx="5.4" ry="5.4" fill="#5b9bef" stroke="#000" stroke-width="1.35"/>
<ellipse cx="163.9" cy="526.29" rx="5.4" ry="5.4" fill="#5b9bef" stroke="#000" stroke-width="1.35"/>
<ellipse cx="198.6" cy="586.03" rx="5.4" ry="5.4" fill="#5b9bef" stroke="#000" stroke-width="1.35"/>
<polygon points="129.4,532.84 135.4,543.44 123.4,543.44" fill="#f5a352" stroke="#000" stroke-width="1.35" stroke-linejoin="miter"/>
<polygon points="163.9,572.41 169.9,583.01 157.9,583.01" fill="#f5a352" stroke="#000" stroke-width="1.35" stroke-linejoin="miter"/>
<polygon points="198.6,542.55 204.6,553.15 192.6,553.15" fill="#f5a352" stroke="#000" stroke-width="1.35" stroke-linejoin="miter"/>
<rect x="124" y="576.89" width="10.8" height="10.8" fill="#17b317" stroke="#000" stroke-width="1.35"/>
<rect x="158.5" y="590.33" width="10.8" height="10.8" fill="#17b317" stroke="#000" stroke-width="1.35"/>
<rect x="193.2" y="599.29" width="10.8" height="10.8" fill="#17b317" stroke="#000" stroke-width="1.35"/>
<polygon points="129.4,543.74 135.1,549.44 129.4,555.14 123.7,549.44" fill="#f21a1a" stroke="#000" stroke-width="1.35"/>
<polygon points="163.9,629.61 169.6,635.31 163.9,641.01 158.2,635.31" fill="#f21a1a" stroke="#000" stroke-width="1.35"/>
<polygon points="198.6,620.65 204.3,626.35 198.6,632.05 192.9,626.35" fill="#f21a1a" stroke="#000" stroke-width="1.35"/>
<line x1="275.4" y1="510.7" x2="275.4" y2="647" stroke="#000" stroke-width="1.5"/>
<line x1="274.7" y1="646.2" x2="425.5" y2="646.2" stroke="#000" stroke-width="1.5"/>
<line x1="268.9" y1="646.2" x2="275.4" y2="646.2" stroke="#000" stroke-width="1.3"/>
<text x="266.1" y="651.6" font-size="15.3" fill="#404040" text-anchor="end" textLength="15.8" lengthAdjust="spacingAndGlyphs">25</text>
<line x1="271.9" y1="636.56" x2="275.4" y2="636.56" stroke="#000" stroke-width="1.3"/>
<line x1="268.9" y1="626.91" x2="275.4" y2="626.91" stroke="#000" stroke-width="1.3"/>
<text x="266.1" y="632.31" font-size="15.3" fill="#404040" text-anchor="end" textLength="15.8" lengthAdjust="spacingAndGlyphs">30</text>
<line x1="271.9" y1="617.27" x2="275.4" y2="617.27" stroke="#000" stroke-width="1.3"/>
<line x1="268.9" y1="607.63" x2="275.4" y2="607.63" stroke="#000" stroke-width="1.3"/>
<text x="266.1" y="613.03" font-size="15.3" fill="#404040" text-anchor="end" textLength="15.8" lengthAdjust="spacingAndGlyphs">35</text>
<line x1="271.9" y1="597.99" x2="275.4" y2="597.99" stroke="#000" stroke-width="1.3"/>
<line x1="268.9" y1="588.34" x2="275.4" y2="588.34" stroke="#000" stroke-width="1.3"/>
<text x="266.1" y="593.74" font-size="15.3" fill="#404040" text-anchor="end" textLength="15.8" lengthAdjust="spacingAndGlyphs">40</text>
<line x1="271.9" y1="578.7" x2="275.4" y2="578.7" stroke="#000" stroke-width="1.3"/>
<line x1="268.9" y1="569.06" x2="275.4" y2="569.06" stroke="#000" stroke-width="1.3"/>
<text x="266.1" y="574.46" font-size="15.3" fill="#404040" text-anchor="end" textLength="15.8" lengthAdjust="spacingAndGlyphs">45</text>
<line x1="271.9" y1="559.41" x2="275.4" y2="559.41" stroke="#000" stroke-width="1.3"/>
<line x1="268.9" y1="549.77" x2="275.4" y2="549.77" stroke="#000" stroke-width="1.3"/>
<text x="266.1" y="555.17" font-size="15.3" fill="#404040" text-anchor="end" textLength="15.8" lengthAdjust="spacingAndGlyphs">50</text>
<line x1="271.9" y1="540.13" x2="275.4" y2="540.13" stroke="#000" stroke-width="1.3"/>
<line x1="268.9" y1="530.49" x2="275.4" y2="530.49" stroke="#000" stroke-width="1.3"/>
<text x="266.1" y="535.89" font-size="15.3" fill="#404040" text-anchor="end" textLength="15.8" lengthAdjust="spacingAndGlyphs">55</text>
<line x1="271.9" y1="520.84" x2="275.4" y2="520.84" stroke="#000" stroke-width="1.3"/>
<line x1="268.9" y1="511.2" x2="275.4" y2="511.2" stroke="#000" stroke-width="1.3"/>
<text x="266.1" y="516.6" font-size="15.3" fill="#404040" text-anchor="end" textLength="15.8" lengthAdjust="spacingAndGlyphs">60</text>
<line x1="298.9" y1="646.2" x2="298.9" y2="652.2" stroke="#000" stroke-width="1.3"/>
<line x1="334.2" y1="646.2" x2="334.2" y2="652.2" stroke="#000" stroke-width="1.3"/>
<line x1="368.8" y1="646.2" x2="368.8" y2="652.2" stroke="#000" stroke-width="1.3"/>
<line x1="403.3" y1="646.2" x2="403.3" y2="652.2" stroke="#000" stroke-width="1.3"/>
<text x="298.9" y="669.7" font-size="14.5" fill="#404040" text-anchor="middle">0</text>
<text x="334.2" y="669.7" font-size="14.5" fill="#404040" text-anchor="middle">1</text>
<text x="368.8" y="669.7" font-size="14.5" fill="#404040" text-anchor="middle">5</text>
<text x="403.3" y="669.7" font-size="14.5" fill="#404040" text-anchor="middle">10</text>
<text x="414.8" y="669.7" font-size="14.5" fill="#404040" textLength="30" lengthAdjust="spacingAndGlyphs">(μM)</text>
<text x="351.4" y="684.7" font-size="14.5" fill="#404040" text-anchor="middle" textLength="98.5" lengthAdjust="spacingAndGlyphs">Antibiotic conc.</text>
<text x="242" y="573.2" font-size="14.5" fill="#404040" text-anchor="middle" textLength="146" lengthAdjust="spacingAndGlyphs" transform="rotate(-90 242 573.2)">% of protein expression</text>
<text x="291.2" y="505.5" font-size="16" fill="#404040" textLength="95.5" lengthAdjust="spacingAndGlyphs">A0A5C0PFX8</text>
<text x="391.8" y="505.5" font-size="16" fill="#d9363e" textLength="8.4" lengthAdjust="spacingAndGlyphs">II</text>
<line x1="301.87" y1="595.32" x2="321.63" y2="598.13" stroke="#000" stroke-width="1.25" stroke-dasharray="3.2,2.2"/>
<polygon points="328.95,599.17 321.14,601.54 322.11,594.71" fill="#000" stroke="#000" stroke-width="0.6"/>
<line x1="336.2" y1="602.15" x2="360.32" y2="629.03" stroke="#000" stroke-width="1.25" stroke-dasharray="3.2,2.2"/>
<polygon points="365.26,634.54 357.75,631.34 362.89,626.73" fill="#000" stroke="#000" stroke-width="0.6"/>
<line x1="371.1" y1="636.56" x2="393.57" y2="617.72" stroke="#000" stroke-width="1.25" stroke-dasharray="3.2,2.2"/>
<polygon points="399.24,612.96 395.79,620.36 391.35,615.07" fill="#000" stroke="#000" stroke-width="0.6"/>
<line x1="301.25" y1="596.77" x2="324.27" y2="615.14" stroke="#000" stroke-width="1.25" stroke-dasharray="3.2,2.2"/>
<polygon points="330.06,619.75 322.12,617.83 326.42,612.44" fill="#000" stroke="#000" stroke-width="0.6"/>
<line x1="336.5" y1="621.13" x2="359.06" y2="602.27" stroke="#000" stroke-width="1.25" stroke-dasharray="3.2,2.2"/>
<polygon points="364.73,597.53 361.27,604.92 356.84,599.63" fill="#000" stroke="#000" stroke-width="0.6"/>
<line x1="371.73" y1="594.78" x2="390.91" y2="599.07" stroke="#000" stroke-width="1.25" stroke-dasharray="3.2,2.2"/>
<polygon points="398.13,600.69 390.15,602.44 391.66,595.7" fill="#000" stroke="#000" stroke-width="0.6"/>
<line x1="301.22" y1="593" x2="324.38" y2="574.02" stroke="#000" stroke-width="1.25" stroke-dasharray="3.2,2.2"/>
<polygon points="330.1,569.33 326.56,576.69 322.19,571.35" fill="#000" stroke="#000" stroke-width="0.6"/>
<line x1="336.93" y1="567.22" x2="357.25" y2="576.51" stroke="#000" stroke-width="1.25" stroke-dasharray="3.2,2.2"/>
<polygon points="363.98,579.58 355.82,579.64 358.68,573.37" fill="#000" stroke="#000" stroke-width="0.6"/>
<line x1="371.23" y1="580.02" x2="393.03" y2="564.18" stroke="#000" stroke-width="1.25" stroke-dasharray="3.2,2.2"/>
<polygon points="399.01,559.83 395.05,566.97 391,561.39" fill="#000" stroke="#000" stroke-width="0.6"/>
<line x1="300.81" y1="597.21" x2="326.12" y2="627.92" stroke="#000" stroke-width="1.25" stroke-dasharray="3.2,2.2"/>
<polygon points="330.83,633.62 323.46,630.11 328.78,625.72" fill="#000" stroke="#000" stroke-width="0.6"/>
<line x1="335.34" y1="634.94" x2="363.97" y2="565.37" stroke="#000" stroke-width="1.25" stroke-dasharray="3.2,2.2"/>
<polygon points="366.78,558.53 367.16,566.69 360.78,564.06" fill="#000" stroke="#000" stroke-width="0.6"/>
<line x1="371.12" y1="551.73" x2="393.46" y2="533.5" stroke="#000" stroke-width="1.25" stroke-dasharray="3.2,2.2"/>
<polygon points="399.19,528.82 395.64,536.17 391.28,530.83" fill="#000" stroke="#000" stroke-width="0.6"/>
<rect x="293.5" y="589.5" width="10.8" height="10.8" fill="#17b317" stroke="#000" stroke-width="1.35"/>
<polygon points="298.9,590.2 303.6,594.9 298.9,599.6 294.2,594.9" fill="#f21a1a" stroke="#000" stroke-width="1.35"/>
<ellipse cx="334.2" cy="599.91" rx="5.4" ry="5.4" fill="#5b9bef" stroke="#000" stroke-width="1.35"/>
<ellipse cx="368.8" cy="638.49" rx="5.4" ry="5.4" fill="#5b9bef" stroke="#000" stroke-width="1.35"/>
<ellipse cx="403.3" cy="609.56" rx="5.4" ry="5.4" fill="#5b9bef" stroke="#000" stroke-width="1.35"/>
<polygon points="334.2,616.91 340.2,627.51 328.2,627.51" fill="#f5a352" stroke="#000" stroke-width="1.35" stroke-linejoin="miter"/>
<polygon points="368.8,587.98 374.8,598.58 362.8,598.58" fill="#f5a352" stroke="#000" stroke-width="1.35" stroke-linejoin="miter"/>
<polygon points="403.3,595.69 409.3,606.29 397.3,606.29" fill="#f5a352" stroke="#000" stroke-width="1.35" stroke-linejoin="miter"/>
<rect x="328.8" y="560.57" width="10.8" height="10.8" fill="#17b317" stroke="#000" stroke-width="1.35"/>
<rect x="363.4" y="576.39" width="10.8" height="10.8" fill="#17b317" stroke="#000" stroke-width="1.35"/>
<rect x="397.9" y="551.31" width="10.8" height="10.8" fill="#17b317" stroke="#000" stroke-width="1.35"/>
<polygon points="334.2,632.01 339.9,637.71 334.2,643.41 328.5,637.71" fill="#f21a1a" stroke="#000" stroke-width="1.35"/>
<polygon points="368.8,547.93 374.5,553.63 368.8,559.33 363.1,553.63" fill="#f21a1a" stroke="#000" stroke-width="1.35"/>
<polygon points="403.3,519.77 409,525.47 403.3,531.17 397.6,525.47" fill="#f21a1a" stroke="#000" stroke-width="1.35"/>
<line x1="480" y1="511" x2="480" y2="647.2" stroke="#000" stroke-width="1.5"/>
<line x1="479.3" y1="646.4" x2="630" y2="646.4" stroke="#000" stroke-width="1.5"/>
<line x1="473.5" y1="646.4" x2="480" y2="646.4" stroke="#000" stroke-width="1.3"/>
<text x="470.7" y="651.8" font-size="15.3" fill="#404040" text-anchor="end" textLength="15.8" lengthAdjust="spacingAndGlyphs">22</text>
<line x1="476.5" y1="637.97" x2="480" y2="637.97" stroke="#000" stroke-width="1.3"/>
<line x1="473.5" y1="629.54" x2="480" y2="629.54" stroke="#000" stroke-width="1.3"/>
<text x="470.7" y="634.94" font-size="15.3" fill="#404040" text-anchor="end" textLength="15.8" lengthAdjust="spacingAndGlyphs">24</text>
<line x1="476.5" y1="621.11" x2="480" y2="621.11" stroke="#000" stroke-width="1.3"/>
<line x1="473.5" y1="612.67" x2="480" y2="612.67" stroke="#000" stroke-width="1.3"/>
<text x="470.7" y="618.07" font-size="15.3" fill="#404040" text-anchor="end" textLength="15.8" lengthAdjust="spacingAndGlyphs">26</text>
<line x1="476.5" y1="604.24" x2="480" y2="604.24" stroke="#000" stroke-width="1.3"/>
<line x1="473.5" y1="595.81" x2="480" y2="595.81" stroke="#000" stroke-width="1.3"/>
<text x="470.7" y="601.21" font-size="15.3" fill="#404040" text-anchor="end" textLength="15.8" lengthAdjust="spacingAndGlyphs">28</text>
<line x1="476.5" y1="587.38" x2="480" y2="587.38" stroke="#000" stroke-width="1.3"/>
<line x1="473.5" y1="578.95" x2="480" y2="578.95" stroke="#000" stroke-width="1.3"/>
<text x="470.7" y="584.35" font-size="15.3" fill="#404040" text-anchor="end" textLength="15.8" lengthAdjust="spacingAndGlyphs">30</text>
<line x1="476.5" y1="570.52" x2="480" y2="570.52" stroke="#000" stroke-width="1.3"/>
<line x1="473.5" y1="562.09" x2="480" y2="562.09" stroke="#000" stroke-width="1.3"/>
<text x="470.7" y="567.49" font-size="15.3" fill="#404040" text-anchor="end" textLength="15.8" lengthAdjust="spacingAndGlyphs">32</text>
<line x1="476.5" y1="553.66" x2="480" y2="553.66" stroke="#000" stroke-width="1.3"/>
<line x1="473.5" y1="545.23" x2="480" y2="545.23" stroke="#000" stroke-width="1.3"/>
<text x="470.7" y="550.62" font-size="15.3" fill="#404040" text-anchor="end" textLength="15.8" lengthAdjust="spacingAndGlyphs">34</text>
<line x1="476.5" y1="536.79" x2="480" y2="536.79" stroke="#000" stroke-width="1.3"/>
<line x1="473.5" y1="528.36" x2="480" y2="528.36" stroke="#000" stroke-width="1.3"/>
<text x="470.7" y="533.76" font-size="15.3" fill="#404040" text-anchor="end" textLength="15.8" lengthAdjust="spacingAndGlyphs">36</text>
<line x1="476.5" y1="519.93" x2="480" y2="519.93" stroke="#000" stroke-width="1.3"/>
<line x1="473.5" y1="511.5" x2="480" y2="511.5" stroke="#000" stroke-width="1.3"/>
<text x="470.7" y="516.9" font-size="15.3" fill="#404040" text-anchor="end" textLength="15.8" lengthAdjust="spacingAndGlyphs">38</text>
<line x1="503.2" y1="646.4" x2="503.2" y2="652.4" stroke="#000" stroke-width="1.3"/>
<line x1="537.9" y1="646.4" x2="537.9" y2="652.4" stroke="#000" stroke-width="1.3"/>
<line x1="572.5" y1="646.4" x2="572.5" y2="652.4" stroke="#000" stroke-width="1.3"/>
<line x1="607.2" y1="646.4" x2="607.2" y2="652.4" stroke="#000" stroke-width="1.3"/>
<text x="503.2" y="669.9" font-size="14.5" fill="#404040" text-anchor="middle">0</text>
<text x="537.9" y="669.9" font-size="14.5" fill="#404040" text-anchor="middle">1</text>
<text x="572.5" y="669.9" font-size="14.5" fill="#404040" text-anchor="middle">5</text>
<text x="607.2" y="669.9" font-size="14.5" fill="#404040" text-anchor="middle">10</text>
<text x="618.7" y="669.9" font-size="14.5" fill="#404040" textLength="30" lengthAdjust="spacingAndGlyphs">(μM)</text>
<text x="555.5" y="684.9" font-size="14.5" fill="#404040" text-anchor="middle" textLength="98.5" lengthAdjust="spacingAndGlyphs">Antibiotic conc.</text>
<text x="446" y="573.5" font-size="14.5" fill="#404040" text-anchor="middle" textLength="146" lengthAdjust="spacingAndGlyphs" transform="rotate(-90 446 573.5)">% of protein expression</text>
<text x="499.2" y="505.5" font-size="16" fill="#404040" textLength="92.6" lengthAdjust="spacingAndGlyphs">A0A858S429</text>
<text x="597.3" y="505.5" font-size="16" fill="#d9363e" textLength="8.8" lengthAdjust="spacingAndGlyphs">II</text>
<line x1="506.18" y1="575.22" x2="525.29" y2="572.89" stroke="#000" stroke-width="1.25" stroke-dasharray="3.2,2.2"/>
<polygon points="532.64,572 525.71,576.32 524.88,569.47" fill="#000" stroke="#000" stroke-width="0.6"/>
<line x1="539.52" y1="568.84" x2="565.64" y2="528.09" stroke="#000" stroke-width="1.25" stroke-dasharray="3.2,2.2"/>
<polygon points="569.64,521.86 568.55,529.96 562.74,526.23" fill="#000" stroke="#000" stroke-width="0.6"/>
<line x1="573.58" y1="520.2" x2="602.64" y2="595.76" stroke="#000" stroke-width="1.25" stroke-dasharray="3.2,2.2"/>
<polygon points="605.3,602.67 599.42,597 605.86,594.52" fill="#000" stroke="#000" stroke-width="0.6"/>
<line x1="506.2" y1="575.58" x2="525.2" y2="575.58" stroke="#000" stroke-width="1.25" stroke-dasharray="3.2,2.2"/>
<polygon points="532.6,575.58 525.2,579.03 525.2,572.13" fill="#000" stroke="#000" stroke-width="0.6"/>
<line x1="540.86" y1="575.07" x2="559.98" y2="571.81" stroke="#000" stroke-width="1.25" stroke-dasharray="3.2,2.2"/>
<polygon points="567.28,570.57 560.56,575.21 559.4,568.41" fill="#000" stroke="#000" stroke-width="0.6"/>
<line x1="573.93" y1="572.31" x2="601.15" y2="622.59" stroke="#000" stroke-width="1.25" stroke-dasharray="3.2,2.2"/>
<polygon points="604.68,629.09 598.12,624.23 604.19,620.94" fill="#000" stroke="#000" stroke-width="0.6"/>
<line x1="505.79" y1="577.09" x2="526.93" y2="589.41" stroke="#000" stroke-width="1.25" stroke-dasharray="3.2,2.2"/>
<polygon points="533.32,593.14 525.19,592.4 528.67,586.43" fill="#000" stroke="#000" stroke-width="0.6"/>
<line x1="540.54" y1="597.23" x2="561.31" y2="608.36" stroke="#000" stroke-width="1.25" stroke-dasharray="3.2,2.2"/>
<polygon points="567.83,611.86 559.68,611.4 562.94,605.32" fill="#000" stroke="#000" stroke-width="0.6"/>
<line x1="574" y1="611.77" x2="600.83" y2="565.49" stroke="#000" stroke-width="1.25" stroke-dasharray="3.2,2.2"/>
<polygon points="604.54,559.08 603.82,567.22 597.85,563.76" fill="#000" stroke="#000" stroke-width="0.6"/>
<line x1="504.94" y1="573.13" x2="530.55" y2="537.03" stroke="#000" stroke-width="1.25" stroke-dasharray="3.2,2.2"/>
<polygon points="534.83,531 533.36,539.03 527.74,535.04" fill="#000" stroke="#000" stroke-width="0.6"/>
<line x1="539.04" y1="529.45" x2="567.68" y2="599.24" stroke="#000" stroke-width="1.25" stroke-dasharray="3.2,2.2"/>
<polygon points="570.49,606.09 564.49,600.55 570.87,597.93" fill="#000" stroke="#000" stroke-width="0.6"/>
<line x1="575.38" y1="611.83" x2="595.01" y2="617.55" stroke="#000" stroke-width="1.25" stroke-dasharray="3.2,2.2"/>
<polygon points="602.11,619.62 594.04,620.86 595.97,614.24" fill="#000" stroke="#000" stroke-width="0.6"/>
<rect x="497.8" y="570.18" width="10.8" height="10.8" fill="#17b317" stroke="#000" stroke-width="1.35"/>
<polygon points="503.2,570.88 507.9,575.58 503.2,580.28 498.5,575.58" fill="#f21a1a" stroke="#000" stroke-width="1.35"/>
<ellipse cx="537.9" cy="571.36" rx="5.4" ry="5.4" fill="#5b9bef" stroke="#000" stroke-width="1.35"/>
<ellipse cx="572.5" cy="517.4" rx="5.4" ry="5.4" fill="#5b9bef" stroke="#000" stroke-width="1.35"/>
<ellipse cx="607.2" cy="607.62" rx="5.4" ry="5.4" fill="#5b9bef" stroke="#000" stroke-width="1.35"/>
<polygon points="537.9,569.43 543.9,580.03 531.9,580.03" fill="#f5a352" stroke="#000" stroke-width="1.35" stroke-linejoin="miter"/>
<polygon points="572.5,563.53 578.5,574.13 566.5,574.13" fill="#f5a352" stroke="#000" stroke-width="1.35" stroke-linejoin="miter"/>
<polygon points="607.2,627.61 613.2,638.21 601.2,638.21" fill="#f5a352" stroke="#000" stroke-width="1.35" stroke-linejoin="miter"/>
<rect x="532.5" y="590.41" width="10.8" height="10.8" fill="#17b317" stroke="#000" stroke-width="1.35"/>
<rect x="567.1" y="608.96" width="10.8" height="10.8" fill="#17b317" stroke="#000" stroke-width="1.35"/>
<rect x="601.8" y="549.1" width="10.8" height="10.8" fill="#17b317" stroke="#000" stroke-width="1.35"/>
<polygon points="537.9,520.98 543.6,526.68 537.9,532.38 532.2,526.68" fill="#f21a1a" stroke="#000" stroke-width="1.35"/>
<polygon points="572.5,605.29 578.2,610.99 572.5,616.69 566.8,610.99" fill="#f21a1a" stroke="#000" stroke-width="1.35"/>
<polygon points="607.2,615.41 612.9,621.11 607.2,626.81 601.5,621.11" fill="#f21a1a" stroke="#000" stroke-width="1.35"/>
<line x1="68.2" y1="753.7" x2="68.2" y2="890.2" stroke="#000" stroke-width="1.5"/>
<line x1="67.5" y1="889.4" x2="220" y2="889.4" stroke="#000" stroke-width="1.5"/>
<line x1="61.7" y1="889.4" x2="68.2" y2="889.4" stroke="#000" stroke-width="1.3"/>
<text x="60" y="894.8" font-size="15.3" fill="#404040" text-anchor="end" textLength="7.9" lengthAdjust="spacingAndGlyphs">0</text>
<line x1="64.7" y1="875.88" x2="68.2" y2="875.88" stroke="#000" stroke-width="1.3"/>
<line x1="61.7" y1="862.36" x2="68.2" y2="862.36" stroke="#000" stroke-width="1.3"/>
<text x="60" y="867.76" font-size="15.3" fill="#404040" text-anchor="end" textLength="7.9" lengthAdjust="spacingAndGlyphs">1</text>
<line x1="64.7" y1="848.84" x2="68.2" y2="848.84" stroke="#000" stroke-width="1.3"/>
<line x1="61.7" y1="835.32" x2="68.2" y2="835.32" stroke="#000" stroke-width="1.3"/>
<text x="60" y="840.72" font-size="15.3" fill="#404040" text-anchor="end" textLength="7.9" lengthAdjust="spacingAndGlyphs">2</text>
<line x1="64.7" y1="821.8" x2="68.2" y2="821.8" stroke="#000" stroke-width="1.3"/>
<line x1="61.7" y1="808.28" x2="68.2" y2="808.28" stroke="#000" stroke-width="1.3"/>
<text x="60" y="813.68" font-size="15.3" fill="#404040" text-anchor="end" textLength="7.9" lengthAdjust="spacingAndGlyphs">3</text>
<line x1="64.7" y1="794.76" x2="68.2" y2="794.76" stroke="#000" stroke-width="1.3"/>
<line x1="61.7" y1="781.24" x2="68.2" y2="781.24" stroke="#000" stroke-width="1.3"/>
<text x="60" y="786.64" font-size="15.3" fill="#404040" text-anchor="end" textLength="7.9" lengthAdjust="spacingAndGlyphs">4</text>
<line x1="64.7" y1="767.72" x2="68.2" y2="767.72" stroke="#000" stroke-width="1.3"/>
<line x1="61.7" y1="754.2" x2="68.2" y2="754.2" stroke="#000" stroke-width="1.3"/>
<text x="60" y="759.6" font-size="15.3" fill="#404040" text-anchor="end" textLength="7.9" lengthAdjust="spacingAndGlyphs">5</text>
<line x1="90.7" y1="889.4" x2="90.7" y2="895.4" stroke="#000" stroke-width="1.3"/>
<line x1="125.9" y1="889.4" x2="125.9" y2="895.4" stroke="#000" stroke-width="1.3"/>
<line x1="160.8" y1="889.4" x2="160.8" y2="895.4" stroke="#000" stroke-width="1.3"/>
<line x1="195.8" y1="889.4" x2="195.8" y2="895.4" stroke="#000" stroke-width="1.3"/>
<text x="90.7" y="912.9" font-size="14.5" fill="#404040" text-anchor="middle">0</text>
<text x="125.9" y="912.9" font-size="14.5" fill="#404040" text-anchor="middle">1</text>
<text x="160.8" y="912.9" font-size="14.5" fill="#404040" text-anchor="middle">5</text>
<text x="195.8" y="912.9" font-size="14.5" fill="#404040" text-anchor="middle">10</text>
<text x="207.3" y="912.9" font-size="14.5" fill="#404040" textLength="30" lengthAdjust="spacingAndGlyphs">(μM)</text>
<text x="143.55" y="927.9" font-size="14.5" fill="#404040" text-anchor="middle" textLength="98.5" lengthAdjust="spacingAndGlyphs">Antibiotic conc.</text>
<text x="44.8" y="816.5" font-size="14.5" fill="#404040" text-anchor="middle" textLength="146" lengthAdjust="spacingAndGlyphs" transform="rotate(-90 44.8 816.5)">% of protein expression</text>
<text x="84.2" y="748" font-size="16" fill="#404040" textLength="100.8" lengthAdjust="spacingAndGlyphs">A0A8B5YQG5</text>
<text x="191.2" y="748" font-size="16" fill="#d9363e" textLength="2.8" lengthAdjust="spacingAndGlyphs">I</text>
<line x1="93.69" y1="889.12" x2="113.25" y2="887.32" stroke="#000" stroke-width="1.25" stroke-dasharray="3.2,2.2"/>
<polygon points="120.62,886.64 113.57,890.76 112.94,883.89" fill="#000" stroke="#000" stroke-width="0.6"/>
<line x1="127.99" y1="884" x2="151.96" y2="859.31" stroke="#000" stroke-width="1.25" stroke-dasharray="3.2,2.2"/>
<polygon points="157.11,854 154.43,861.71 149.48,856.9" fill="#000" stroke="#000" stroke-width="0.6"/>
<line x1="162.45" y1="847.68" x2="188.83" y2="807.54" stroke="#000" stroke-width="1.25" stroke-dasharray="3.2,2.2"/>
<polygon points="192.89,801.35 191.71,809.43 185.94,805.64" fill="#000" stroke="#000" stroke-width="0.6"/>
<line x1="93.67" y1="888.94" x2="113.35" y2="885.92" stroke="#000" stroke-width="1.25" stroke-dasharray="3.2,2.2"/>
<polygon points="120.66,884.8 113.87,889.33 112.82,882.51" fill="#000" stroke="#000" stroke-width="0.6"/>
<line x1="128.32" y1="882.21" x2="150.57" y2="865.83" stroke="#000" stroke-width="1.25" stroke-dasharray="3.2,2.2"/>
<polygon points="156.53,861.45 152.62,868.61 148.53,863.05" fill="#000" stroke="#000" stroke-width="0.6"/>
<line x1="161.9" y1="855.51" x2="191.16" y2="780.9" stroke="#000" stroke-width="1.25" stroke-dasharray="3.2,2.2"/>
<polygon points="193.86,774.01 194.37,782.15 187.95,779.64" fill="#000" stroke="#000" stroke-width="0.6"/>
<line x1="93.69" y1="889.17" x2="113.24" y2="887.67" stroke="#000" stroke-width="1.25" stroke-dasharray="3.2,2.2"/>
<polygon points="120.62,887.1 113.5,891.11 112.97,884.23" fill="#000" stroke="#000" stroke-width="0.6"/>
<line x1="128.82" y1="886.02" x2="148.43" y2="881.46" stroke="#000" stroke-width="1.25" stroke-dasharray="3.2,2.2"/>
<polygon points="155.64,879.78 149.21,884.82 147.65,878.1" fill="#000" stroke="#000" stroke-width="0.6"/>
<line x1="163.13" y1="876.69" x2="185.94" y2="858.19" stroke="#000" stroke-width="1.25" stroke-dasharray="3.2,2.2"/>
<polygon points="191.68,853.53 188.11,860.87 183.76,855.51" fill="#000" stroke="#000" stroke-width="0.6"/>
<rect x="85.3" y="884" width="10.8" height="10.8" fill="#17b317" stroke="#000" stroke-width="1.35"/>
<polygon points="90.7,884.7 95.4,889.4 90.7,894.1 86,889.4" fill="#f21a1a" stroke="#000" stroke-width="1.35"/>
<ellipse cx="125.9" cy="886.16" rx="5.4" ry="5.4" fill="#9dc3f3" stroke="#000" stroke-width="1.35"/>
<ellipse cx="160.8" cy="850.19" rx="5.4" ry="5.4" fill="#9dc3f3" stroke="#000" stroke-width="1.35"/>
<ellipse cx="195.8" cy="796.92" rx="5.4" ry="5.4" fill="#9dc3f3" stroke="#000" stroke-width="1.35"/>
<rect x="120.5" y="878.59" width="10.8" height="10.8" fill="#17b317" stroke="#000" stroke-width="1.35"/>
<rect x="155.4" y="852.9" width="10.8" height="10.8" fill="#17b317" stroke="#000" stroke-width="1.35"/>
<rect x="190.4" y="763.67" width="10.8" height="10.8" fill="#17b317" stroke="#000" stroke-width="1.35"/>
<polygon points="125.9,881 131.6,886.7 125.9,892.4 120.2,886.7" fill="#f21a1a" stroke="#000" stroke-width="1.35"/>
<polygon points="160.8,872.88 166.5,878.58 160.8,884.28 155.1,878.58" fill="#f21a1a" stroke="#000" stroke-width="1.35"/>
<polygon points="195.8,844.49 201.5,850.19 195.8,855.89 190.1,850.19" fill="#f21a1a" stroke="#000" stroke-width="1.35"/>
<line x1="279.7" y1="752.1" x2="279.7" y2="888" stroke="#000" stroke-width="1.5"/>
<line x1="279" y1="887.2" x2="429.2" y2="887.2" stroke="#000" stroke-width="1.5"/>
<line x1="273.2" y1="887.2" x2="279.7" y2="887.2" stroke="#000" stroke-width="1.3"/>
<text x="270.4" y="892.6" font-size="15.3" fill="#404040" text-anchor="end" textLength="20.2" lengthAdjust="spacingAndGlyphs">0.0</text>
<line x1="276.2" y1="870.38" x2="279.7" y2="870.38" stroke="#000" stroke-width="1.3"/>
<line x1="273.2" y1="853.55" x2="279.7" y2="853.55" stroke="#000" stroke-width="1.3"/>
<text x="270.4" y="858.95" font-size="15.3" fill="#404040" text-anchor="end" textLength="20.2" lengthAdjust="spacingAndGlyphs">0.5</text>
<line x1="276.2" y1="836.73" x2="279.7" y2="836.73" stroke="#000" stroke-width="1.3"/>
<line x1="273.2" y1="819.9" x2="279.7" y2="819.9" stroke="#000" stroke-width="1.3"/>
<text x="270.4" y="825.3" font-size="15.3" fill="#404040" text-anchor="end" textLength="20.2" lengthAdjust="spacingAndGlyphs">1.0</text>
<line x1="276.2" y1="803.08" x2="279.7" y2="803.08" stroke="#000" stroke-width="1.3"/>
<line x1="273.2" y1="786.25" x2="279.7" y2="786.25" stroke="#000" stroke-width="1.3"/>
<text x="270.4" y="791.65" font-size="15.3" fill="#404040" text-anchor="end" textLength="20.2" lengthAdjust="spacingAndGlyphs">1.5</text>
<line x1="276.2" y1="769.43" x2="279.7" y2="769.43" stroke="#000" stroke-width="1.3"/>
<line x1="273.2" y1="752.6" x2="279.7" y2="752.6" stroke="#000" stroke-width="1.3"/>
<text x="270.4" y="758" font-size="15.3" fill="#404040" text-anchor="end" textLength="20.2" lengthAdjust="spacingAndGlyphs">2.0</text>
<line x1="302.2" y1="887.2" x2="302.2" y2="893.2" stroke="#000" stroke-width="1.3"/>
<line x1="336.8" y1="887.2" x2="336.8" y2="893.2" stroke="#000" stroke-width="1.3"/>
<line x1="371.7" y1="887.2" x2="371.7" y2="893.2" stroke="#000" stroke-width="1.3"/>
<line x1="406.3" y1="887.2" x2="406.3" y2="893.2" stroke="#000" stroke-width="1.3"/>
<text x="302.2" y="910.7" font-size="14.5" fill="#404040" text-anchor="middle">0</text>
<text x="336.8" y="910.7" font-size="14.5" fill="#404040" text-anchor="middle">1</text>
<text x="371.7" y="910.7" font-size="14.5" fill="#404040" text-anchor="middle">5</text>
<text x="406.3" y="910.7" font-size="14.5" fill="#404040" text-anchor="middle">10</text>
<text x="417.8" y="910.7" font-size="14.5" fill="#404040" textLength="30" lengthAdjust="spacingAndGlyphs">(μM)</text>
<text x="354.55" y="925.7" font-size="14.5" fill="#404040" text-anchor="middle" textLength="98.5" lengthAdjust="spacingAndGlyphs">Antibiotic conc.</text>
<text x="244.5" y="814" font-size="14.5" fill="#404040" text-anchor="middle" textLength="147.8" lengthAdjust="spacingAndGlyphs" transform="rotate(-90 244.5 814)">% of protein expression</text>
<text x="293.6" y="748.2" font-size="16" fill="#404040" textLength="116.1" lengthAdjust="spacingAndGlyphs">Q5UCE5 ADC-1</text>
<line x1="305.14" y1="886.63" x2="324.33" y2="882.89" stroke="#000" stroke-width="1.25" stroke-dasharray="3.2,2.2"/>
<polygon points="331.6,881.48 324.99,886.28 323.67,879.51" fill="#000" stroke="#000" stroke-width="0.6"/>
<line x1="339.7" y1="879.69" x2="359.44" y2="874.36" stroke="#000" stroke-width="1.25" stroke-dasharray="3.2,2.2"/>
<polygon points="366.58,872.43 360.34,877.69 358.54,871.03" fill="#000" stroke="#000" stroke-width="0.6"/>
<line x1="373.58" y1="868.71" x2="398.35" y2="837.88" stroke="#000" stroke-width="1.25" stroke-dasharray="3.2,2.2"/>
<polygon points="402.98,832.11 401.04,840.04 395.66,835.72" fill="#000" stroke="#000" stroke-width="0.6"/>
<line x1="305.08" y1="886.36" x2="324.61" y2="880.66" stroke="#000" stroke-width="1.25" stroke-dasharray="3.2,2.2"/>
<polygon points="331.71,878.59 325.57,883.97 323.64,877.35" fill="#000" stroke="#000" stroke-width="0.6"/>
<line x1="339.29" y1="875.43" x2="361.17" y2="860.65" stroke="#000" stroke-width="1.25" stroke-dasharray="3.2,2.2"/>
<polygon points="367.31,856.51 363.1,863.51 359.24,857.8" fill="#000" stroke="#000" stroke-width="0.6"/>
<line x1="372.84" y1="850.78" x2="401.47" y2="781.17" stroke="#000" stroke-width="1.25" stroke-dasharray="3.2,2.2"/>
<polygon points="404.28,774.33 404.66,782.48 398.28,779.86" fill="#000" stroke="#000" stroke-width="0.6"/>
<line x1="305" y1="886.11" x2="324.96" y2="878.34" stroke="#000" stroke-width="1.25" stroke-dasharray="3.2,2.2"/>
<polygon points="331.86,875.66 326.21,881.56 323.71,875.13" fill="#000" stroke="#000" stroke-width="0.6"/>
<line x1="339.6" y1="872.66" x2="359.85" y2="864.85" stroke="#000" stroke-width="1.25" stroke-dasharray="3.2,2.2"/>
<polygon points="366.76,862.19 361.09,868.07 358.61,861.63" fill="#000" stroke="#000" stroke-width="0.6"/>
<line x1="373.48" y1="857.86" x2="398.78" y2="823.41" stroke="#000" stroke-width="1.25" stroke-dasharray="3.2,2.2"/>
<polygon points="403.16,817.44 401.56,825.45 396,821.36" fill="#000" stroke="#000" stroke-width="0.6"/>
<ellipse cx="302.2" cy="887.2" rx="5.4" ry="5.4" fill="#9dc3f3" stroke="#000" stroke-width="1.35"/>
<polygon points="302.2,881.05 308.2,891.65 296.2,891.65" fill="#f5a352" stroke="#000" stroke-width="1.35" stroke-linejoin="miter"/>
<polygon points="302.2,882.5 306.9,887.2 302.2,891.9 297.5,887.2" fill="#f21a1a" stroke="#000" stroke-width="1.35"/>
<ellipse cx="336.8" cy="880.47" rx="5.4" ry="5.4" fill="#9dc3f3" stroke="#000" stroke-width="1.35"/>
<ellipse cx="371.7" cy="871.05" rx="5.4" ry="5.4" fill="#9dc3f3" stroke="#000" stroke-width="1.35"/>
<ellipse cx="406.3" cy="827.98" rx="5.4" ry="5.4" fill="#9dc3f3" stroke="#000" stroke-width="1.35"/>
<polygon points="336.8,870.96 342.8,881.56 330.8,881.56" fill="#f5a352" stroke="#000" stroke-width="1.35" stroke-linejoin="miter"/>
<polygon points="371.7,847.4 377.7,858 365.7,858" fill="#f5a352" stroke="#000" stroke-width="1.35" stroke-linejoin="miter"/>
<polygon points="406.3,763.28 412.3,773.88 400.3,773.88" fill="#f5a352" stroke="#000" stroke-width="1.35" stroke-linejoin="miter"/>
<polygon points="336.8,868.04 342.5,873.74 336.8,879.44 331.1,873.74" fill="#f21a1a" stroke="#000" stroke-width="1.35"/>
<polygon points="371.7,854.58 377.4,860.28 371.7,865.98 366,860.28" fill="#f21a1a" stroke="#000" stroke-width="1.35"/>
<polygon points="406.3,807.47 412,813.17 406.3,818.87 400.6,813.17" fill="#f21a1a" stroke="#000" stroke-width="1.35"/>
<line x1="480.2" y1="752.4" x2="480.2" y2="887.7" stroke="#000" stroke-width="1.5"/>
<line x1="479.5" y1="886.9" x2="630.3" y2="886.9" stroke="#000" stroke-width="1.5"/>
<line x1="473.7" y1="886.9" x2="480.2" y2="886.9" stroke="#000" stroke-width="1.3"/>
<text x="472" y="892.3" font-size="15.3" fill="#404040" text-anchor="end" textLength="7.9" lengthAdjust="spacingAndGlyphs">0</text>
<line x1="476.7" y1="875.73" x2="480.2" y2="875.73" stroke="#000" stroke-width="1.3"/>
<line x1="473.7" y1="864.57" x2="480.2" y2="864.57" stroke="#000" stroke-width="1.3"/>
<text x="472" y="869.97" font-size="15.3" fill="#404040" text-anchor="end" textLength="7.9" lengthAdjust="spacingAndGlyphs">1</text>
<line x1="476.7" y1="853.4" x2="480.2" y2="853.4" stroke="#000" stroke-width="1.3"/>
<line x1="473.7" y1="842.23" x2="480.2" y2="842.23" stroke="#000" stroke-width="1.3"/>
<text x="472" y="847.63" font-size="15.3" fill="#404040" text-anchor="end" textLength="7.9" lengthAdjust="spacingAndGlyphs">2</text>
<line x1="476.7" y1="831.07" x2="480.2" y2="831.07" stroke="#000" stroke-width="1.3"/>
<line x1="473.7" y1="819.9" x2="480.2" y2="819.9" stroke="#000" stroke-width="1.3"/>
<text x="472" y="825.3" font-size="15.3" fill="#404040" text-anchor="end" textLength="7.9" lengthAdjust="spacingAndGlyphs">3</text>
<line x1="476.7" y1="808.73" x2="480.2" y2="808.73" stroke="#000" stroke-width="1.3"/>
<line x1="473.7" y1="797.57" x2="480.2" y2="797.57" stroke="#000" stroke-width="1.3"/>
<text x="472" y="802.97" font-size="15.3" fill="#404040" text-anchor="end" textLength="7.9" lengthAdjust="spacingAndGlyphs">4</text>
<line x1="476.7" y1="786.4" x2="480.2" y2="786.4" stroke="#000" stroke-width="1.3"/>
<line x1="473.7" y1="775.23" x2="480.2" y2="775.23" stroke="#000" stroke-width="1.3"/>
<text x="472" y="780.63" font-size="15.3" fill="#404040" text-anchor="end" textLength="7.9" lengthAdjust="spacingAndGlyphs">5</text>
<line x1="476.7" y1="764.07" x2="480.2" y2="764.07" stroke="#000" stroke-width="1.3"/>
<line x1="473.7" y1="752.9" x2="480.2" y2="752.9" stroke="#000" stroke-width="1.3"/>
<text x="472" y="758.3" font-size="15.3" fill="#404040" text-anchor="end" textLength="7.9" lengthAdjust="spacingAndGlyphs">6</text>
<line x1="503.7" y1="886.9" x2="503.7" y2="892.9" stroke="#000" stroke-width="1.3"/>
<line x1="538.3" y1="886.9" x2="538.3" y2="892.9" stroke="#000" stroke-width="1.3"/>
<line x1="572.5" y1="886.9" x2="572.5" y2="892.9" stroke="#000" stroke-width="1.3"/>
<line x1="607.1" y1="886.9" x2="607.1" y2="892.9" stroke="#000" stroke-width="1.3"/>
<text x="503.7" y="910.4" font-size="14.5" fill="#404040" text-anchor="middle">0</text>
<text x="538.3" y="910.4" font-size="14.5" fill="#404040" text-anchor="middle">1</text>
<text x="572.5" y="910.4" font-size="14.5" fill="#404040" text-anchor="middle">5</text>
<text x="607.1" y="910.4" font-size="14.5" fill="#404040" text-anchor="middle">10</text>
<text x="618.6" y="910.4" font-size="14.5" fill="#404040" textLength="30" lengthAdjust="spacingAndGlyphs">(μM)</text>
<text x="555.7" y="925.4" font-size="14.5" fill="#404040" text-anchor="middle" textLength="98.5" lengthAdjust="spacingAndGlyphs">Antibiotic conc.</text>
<text x="457" y="814" font-size="14.5" fill="#404040" text-anchor="middle" textLength="147" lengthAdjust="spacingAndGlyphs" transform="rotate(-90 457 814)">% of protein expression</text>
<text x="490.2" y="747.6" font-size="16" fill="#404040" textLength="93" lengthAdjust="spacingAndGlyphs">A0A143J2U6</text>
<text x="588.1" y="747.6" font-size="16" fill="#d9363e" textLength="8.4" lengthAdjust="spacingAndGlyphs">II</text>
<line x1="506.65" y1="886.33" x2="525.83" y2="882.61" stroke="#000" stroke-width="1.25" stroke-dasharray="3.2,2.2"/>
<polygon points="533.1,881.21 526.49,886 525.18,879.23" fill="#000" stroke="#000" stroke-width="0.6"/>
<line x1="540.77" y1="878.5" x2="562.03" y2="863.93" stroke="#000" stroke-width="1.25" stroke-dasharray="3.2,2.2"/>
<polygon points="568.13,859.75 563.98,866.78 560.07,861.09" fill="#000" stroke="#000" stroke-width="0.6"/>
<line x1="573.95" y1="854.13" x2="600.95" y2="805.33" stroke="#000" stroke-width="1.25" stroke-dasharray="3.2,2.2"/>
<polygon points="604.53,798.85 603.97,807 597.93,803.66" fill="#000" stroke="#000" stroke-width="0.6"/>
<line x1="506.6" y1="886.15" x2="526" y2="881.14" stroke="#000" stroke-width="1.25" stroke-dasharray="3.2,2.2"/>
<polygon points="533.17,879.29 526.87,884.48 525.14,877.8" fill="#000" stroke="#000" stroke-width="0.6"/>
<line x1="540.41" y1="875.83" x2="563.57" y2="852.38" stroke="#000" stroke-width="1.25" stroke-dasharray="3.2,2.2"/>
<polygon points="568.78,847.12 566.03,854.81 561.12,849.96" fill="#000" stroke="#000" stroke-width="0.6"/>
<line x1="573.58" y1="840.55" x2="602.51" y2="765.86" stroke="#000" stroke-width="1.25" stroke-dasharray="3.2,2.2"/>
<polygon points="605.19,758.96 605.73,767.11 599.3,764.61" fill="#000" stroke="#000" stroke-width="0.6"/>
<line x1="506.68" y1="886.52" x2="525.7" y2="884.06" stroke="#000" stroke-width="1.25" stroke-dasharray="3.2,2.2"/>
<polygon points="533.04,883.11 526.15,887.48 525.26,880.64" fill="#000" stroke="#000" stroke-width="0.6"/>
<line x1="541.24" y1="881.86" x2="560.04" y2="878.17" stroke="#000" stroke-width="1.25" stroke-dasharray="3.2,2.2"/>
<polygon points="567.3,876.75 560.7,881.56 559.37,874.79" fill="#000" stroke="#000" stroke-width="0.6"/>
<line x1="574.98" y1="874.05" x2="596.59" y2="859.41" stroke="#000" stroke-width="1.25" stroke-dasharray="3.2,2.2"/>
<polygon points="602.71,855.26 598.52,862.26 594.65,856.55" fill="#000" stroke="#000" stroke-width="0.6"/>
<rect x="498.3" y="881.5" width="10.8" height="10.8" fill="#17b317" stroke="#000" stroke-width="1.35"/>
<ellipse cx="538.3" cy="880.2" rx="5.4" ry="5.4" fill="#9dc3f3" stroke="#000" stroke-width="1.35"/>
<ellipse cx="572.5" cy="856.75" rx="5.4" ry="5.4" fill="#9dc3f3" stroke="#000" stroke-width="1.35"/>
<ellipse cx="607.1" cy="794.22" rx="5.4" ry="5.4" fill="#9dc3f3" stroke="#000" stroke-width="1.35"/>
<polygon points="538.3,871.82 544.3,882.42 532.3,882.42" fill="#f5a352" stroke="#000" stroke-width="1.35" stroke-linejoin="miter"/>
<polygon points="572.5,837.2 578.5,847.8 566.5,847.8" fill="#f5a352" stroke="#000" stroke-width="1.35" stroke-linejoin="miter"/>
<polygon points="607.1,747.87 613.1,758.47 601.1,758.47" fill="#f5a352" stroke="#000" stroke-width="1.35" stroke-linejoin="miter"/>
<rect x="532.9" y="877.03" width="10.8" height="10.8" fill="#17b317" stroke="#000" stroke-width="1.35"/>
<rect x="567.1" y="870.33" width="10.8" height="10.8" fill="#17b317" stroke="#000" stroke-width="1.35"/>
<rect x="601.7" y="846.88" width="10.8" height="10.8" fill="#17b317" stroke="#000" stroke-width="1.35"/>
<line x1="63.8" y1="954.9" x2="63.8" y2="1091.5" stroke="#000" stroke-width="1.5"/>
<line x1="63.1" y1="1090.7" x2="216.5" y2="1090.7" stroke="#000" stroke-width="1.5"/>
<line x1="57.3" y1="1090.7" x2="63.8" y2="1090.7" stroke="#000" stroke-width="1.3"/>
<text x="55.6" y="1096.1" font-size="15.3" fill="#404040" text-anchor="end" textLength="7.9" lengthAdjust="spacingAndGlyphs">0</text>
<line x1="60.3" y1="1073.79" x2="63.8" y2="1073.79" stroke="#000" stroke-width="1.3"/>
<line x1="57.3" y1="1056.88" x2="63.8" y2="1056.88" stroke="#000" stroke-width="1.3"/>
<text x="55.6" y="1062.28" font-size="15.3" fill="#404040" text-anchor="end" textLength="7.9" lengthAdjust="spacingAndGlyphs">1</text>
<line x1="60.3" y1="1039.96" x2="63.8" y2="1039.96" stroke="#000" stroke-width="1.3"/>
<line x1="57.3" y1="1023.05" x2="63.8" y2="1023.05" stroke="#000" stroke-width="1.3"/>
<text x="55.6" y="1028.45" font-size="15.3" fill="#404040" text-anchor="end" textLength="7.9" lengthAdjust="spacingAndGlyphs">2</text>
<line x1="60.3" y1="1006.14" x2="63.8" y2="1006.14" stroke="#000" stroke-width="1.3"/>
<line x1="57.3" y1="989.23" x2="63.8" y2="989.23" stroke="#000" stroke-width="1.3"/>
<text x="55.6" y="994.62" font-size="15.3" fill="#404040" text-anchor="end" textLength="7.9" lengthAdjust="spacingAndGlyphs">3</text>
<line x1="60.3" y1="972.31" x2="63.8" y2="972.31" stroke="#000" stroke-width="1.3"/>
<line x1="57.3" y1="955.4" x2="63.8" y2="955.4" stroke="#000" stroke-width="1.3"/>
<text x="55.6" y="960.8" font-size="15.3" fill="#404040" text-anchor="end" textLength="7.9" lengthAdjust="spacingAndGlyphs">4</text>
<line x1="88" y1="1090.7" x2="88" y2="1096.7" stroke="#000" stroke-width="1.3"/>
<line x1="122.9" y1="1090.7" x2="122.9" y2="1096.7" stroke="#000" stroke-width="1.3"/>
<line x1="157.2" y1="1090.7" x2="157.2" y2="1096.7" stroke="#000" stroke-width="1.3"/>
<line x1="192.1" y1="1090.7" x2="192.1" y2="1096.7" stroke="#000" stroke-width="1.3"/>
<text x="88" y="1114.2" font-size="14.5" fill="#404040" text-anchor="middle">0</text>
<text x="122.9" y="1114.2" font-size="14.5" fill="#404040" text-anchor="middle">1</text>
<text x="157.2" y="1114.2" font-size="14.5" fill="#404040" text-anchor="middle">5</text>
<text x="192.1" y="1114.2" font-size="14.5" fill="#404040" text-anchor="middle">10</text>
<text x="203.6" y="1114.2" font-size="14.5" fill="#404040" textLength="30" lengthAdjust="spacingAndGlyphs">(μM)</text>
<text x="140.35" y="1129.2" font-size="14.5" fill="#404040" text-anchor="middle" textLength="98.5" lengthAdjust="spacingAndGlyphs">Antibiotic conc.</text>
<text x="41.2" y="1016.7" font-size="14.5" fill="#404040" text-anchor="middle" textLength="146" lengthAdjust="spacingAndGlyphs" transform="rotate(-90 41.2 1016.7)">% of protein expression</text>
<text x="78.6" y="950.8" font-size="16" fill="#404040" textLength="93.2" lengthAdjust="spacingAndGlyphs">A0A482GTJ0</text>
<text x="177.4" y="950.8" font-size="16" fill="#d9363e" textLength="2.8" lengthAdjust="spacingAndGlyphs">I</text>
<line x1="90.37" y1="1088.86" x2="112.86" y2="1071.42" stroke="#000" stroke-width="1.25" stroke-dasharray="3.2,2.2"/>
<polygon points="118.71,1066.89 114.98,1074.15 110.75,1068.7" fill="#000" stroke="#000" stroke-width="0.6"/>
<line x1="125.9" y1="1063.49" x2="144.52" y2="1062.57" stroke="#000" stroke-width="1.25" stroke-dasharray="3.2,2.2"/>
<polygon points="151.91,1062.21 144.69,1066.02 144.35,1059.13" fill="#000" stroke="#000" stroke-width="0.6"/>
<line x1="160.17" y1="1061.52" x2="179.53" y2="1058.7" stroke="#000" stroke-width="1.25" stroke-dasharray="3.2,2.2"/>
<polygon points="186.86,1057.64 180.03,1062.12 179.04,1055.29" fill="#000" stroke="#000" stroke-width="0.6"/>
<line x1="90.05" y1="1088.51" x2="114.21" y2="1062.76" stroke="#000" stroke-width="1.25" stroke-dasharray="3.2,2.2"/>
<polygon points="119.27,1057.36 116.73,1065.12 111.7,1060.4" fill="#000" stroke="#000" stroke-width="0.6"/>
<line x1="125.31" y1="1051.71" x2="146.99" y2="1035.68" stroke="#000" stroke-width="1.25" stroke-dasharray="3.2,2.2"/>
<polygon points="152.94,1031.28 149.04,1038.45 144.94,1032.9" fill="#000" stroke="#000" stroke-width="0.6"/>
<line x1="158.55" y1="1025.44" x2="186.39" y2="970.13" stroke="#000" stroke-width="1.25" stroke-dasharray="3.2,2.2"/>
<polygon points="189.72,963.52 189.47,971.68 183.31,968.58" fill="#000" stroke="#000" stroke-width="0.6"/>
<line x1="90.32" y1="1088.79" x2="113.1" y2="1070.02" stroke="#000" stroke-width="1.25" stroke-dasharray="3.2,2.2"/>
<polygon points="118.81,1065.32 115.29,1072.69 110.9,1067.36" fill="#000" stroke="#000" stroke-width="0.6"/>
<line x1="125.37" y1="1060.24" x2="146.75" y2="1045.49" stroke="#000" stroke-width="1.25" stroke-dasharray="3.2,2.2"/>
<polygon points="152.84,1041.28 148.71,1048.33 144.79,1042.65" fill="#000" stroke="#000" stroke-width="0.6"/>
<line x1="159.95" y1="1037.07" x2="180.46" y2="1028.13" stroke="#000" stroke-width="1.25" stroke-dasharray="3.2,2.2"/>
<polygon points="187.24,1025.17 181.84,1031.29 179.08,1024.96" fill="#000" stroke="#000" stroke-width="0.6"/>
<line x1="90.48" y1="1089.02" x2="112.39" y2="1074.15" stroke="#000" stroke-width="1.25" stroke-dasharray="3.2,2.2"/>
<polygon points="118.51,1070 114.33,1077.01 110.45,1071.3" fill="#000" stroke="#000" stroke-width="0.6"/>
<line x1="125.64" y1="1065.81" x2="145.59" y2="1056.95" stroke="#000" stroke-width="1.25" stroke-dasharray="3.2,2.2"/>
<polygon points="152.36,1053.95 146.99,1060.11 144.19,1053.8" fill="#000" stroke="#000" stroke-width="0.6"/>
<line x1="158.76" y1="1049.24" x2="185.51" y2="1005.16" stroke="#000" stroke-width="1.25" stroke-dasharray="3.2,2.2"/>
<polygon points="189.35,998.83 188.46,1006.95 182.56,1003.37" fill="#000" stroke="#000" stroke-width="0.6"/>
<rect x="82.6" y="1085.3" width="10.8" height="10.8" fill="#17b317" stroke="#000" stroke-width="1.35"/>
<polygon points="88,1086 92.7,1090.7 88,1095.4 83.3,1090.7" fill="#f21a1a" stroke="#000" stroke-width="1.35"/>
<ellipse cx="122.9" cy="1063.64" rx="5.4" ry="5.4" fill="#5b9bef" stroke="#000" stroke-width="1.35"/>
<ellipse cx="157.2" cy="1061.95" rx="5.4" ry="5.4" fill="#5b9bef" stroke="#000" stroke-width="1.35"/>
<ellipse cx="192.1" cy="1056.88" rx="5.4" ry="5.4" fill="#5b9bef" stroke="#000" stroke-width="1.35"/>
<polygon points="122.9,1047.34 128.9,1057.94 116.9,1057.94" fill="#f5a352" stroke="#000" stroke-width="1.35" stroke-linejoin="miter"/>
<polygon points="157.2,1021.98 163.2,1032.58 151.2,1032.58" fill="#f5a352" stroke="#000" stroke-width="1.35" stroke-linejoin="miter"/>
<polygon points="192.1,952.63 198.1,963.23 186.1,963.23" fill="#f5a352" stroke="#000" stroke-width="1.35" stroke-linejoin="miter"/>
<rect x="117.5" y="1056.55" width="10.8" height="10.8" fill="#17b317" stroke="#000" stroke-width="1.35"/>
<rect x="151.8" y="1032.87" width="10.8" height="10.8" fill="#17b317" stroke="#000" stroke-width="1.35"/>
<rect x="186.7" y="1017.65" width="10.8" height="10.8" fill="#17b317" stroke="#000" stroke-width="1.35"/>
<polygon points="122.9,1061.32 128.6,1067.02 122.9,1072.72 117.2,1067.02" fill="#f21a1a" stroke="#000" stroke-width="1.35"/>
<polygon points="157.2,1046.1 162.9,1051.8 157.2,1057.5 151.5,1051.8" fill="#f21a1a" stroke="#000" stroke-width="1.35"/>
<polygon points="192.1,988.6 197.8,994.3 192.1,1000 186.4,994.3" fill="#f21a1a" stroke="#000" stroke-width="1.35"/>
<line x1="277" y1="953.2" x2="277" y2="1090.5" stroke="#000" stroke-width="1.5"/>
<line x1="276.3" y1="1089.7" x2="428.2" y2="1089.7" stroke="#000" stroke-width="1.5"/>
<line x1="270.5" y1="1089.7" x2="277" y2="1089.7" stroke="#000" stroke-width="1.3"/>
<text x="268.8" y="1095.1" font-size="15.3" fill="#404040" text-anchor="end" textLength="7.9" lengthAdjust="spacingAndGlyphs">0</text>
<line x1="273.5" y1="1072.7" x2="277" y2="1072.7" stroke="#000" stroke-width="1.3"/>
<line x1="270.5" y1="1055.7" x2="277" y2="1055.7" stroke="#000" stroke-width="1.3"/>
<text x="268.8" y="1061.1" font-size="15.3" fill="#404040" text-anchor="end" textLength="7.9" lengthAdjust="spacingAndGlyphs">1</text>
<line x1="273.5" y1="1038.7" x2="277" y2="1038.7" stroke="#000" stroke-width="1.3"/>
<line x1="270.5" y1="1021.7" x2="277" y2="1021.7" stroke="#000" stroke-width="1.3"/>
<text x="268.8" y="1027.1" font-size="15.3" fill="#404040" text-anchor="end" textLength="7.9" lengthAdjust="spacingAndGlyphs">2</text>
<line x1="273.5" y1="1004.7" x2="277" y2="1004.7" stroke="#000" stroke-width="1.3"/>
<line x1="270.5" y1="987.7" x2="277" y2="987.7" stroke="#000" stroke-width="1.3"/>
<text x="268.8" y="993.1" font-size="15.3" fill="#404040" text-anchor="end" textLength="7.9" lengthAdjust="spacingAndGlyphs">3</text>
<line x1="273.5" y1="970.7" x2="277" y2="970.7" stroke="#000" stroke-width="1.3"/>
<line x1="270.5" y1="953.7" x2="277" y2="953.7" stroke="#000" stroke-width="1.3"/>
<text x="268.8" y="959.1" font-size="15.3" fill="#404040" text-anchor="end" textLength="7.9" lengthAdjust="spacingAndGlyphs">4</text>
<line x1="300.6" y1="1089.7" x2="300.6" y2="1095.7" stroke="#000" stroke-width="1.3"/>
<line x1="334.8" y1="1089.7" x2="334.8" y2="1095.7" stroke="#000" stroke-width="1.3"/>
<line x1="369.4" y1="1089.7" x2="369.4" y2="1095.7" stroke="#000" stroke-width="1.3"/>
<line x1="404.6" y1="1089.7" x2="404.6" y2="1095.7" stroke="#000" stroke-width="1.3"/>
<text x="300.6" y="1113.2" font-size="14.5" fill="#404040" text-anchor="middle">0</text>
<text x="334.8" y="1113.2" font-size="14.5" fill="#404040" text-anchor="middle">1</text>
<text x="369.4" y="1113.2" font-size="14.5" fill="#404040" text-anchor="middle">5</text>
<text x="404.6" y="1113.2" font-size="14.5" fill="#404040" text-anchor="middle">10</text>
<text x="416.1" y="1113.2" font-size="14.5" fill="#404040" textLength="30" lengthAdjust="spacingAndGlyphs">(μM)</text>
<text x="352.9" y="1128.2" font-size="14.5" fill="#404040" text-anchor="middle" textLength="98.5" lengthAdjust="spacingAndGlyphs">Antibiotic conc.</text>
<text x="247.5" y="1014.2" font-size="14.5" fill="#404040" text-anchor="middle" textLength="147.7" lengthAdjust="spacingAndGlyphs" transform="rotate(-90 247.5 1014.2)">% of protein expression</text>
<text x="313.9" y="950.6" font-size="16" fill="#404040" textLength="52.5" lengthAdjust="spacingAndGlyphs">J7GS97</text>
<text x="372.7" y="950.6" font-size="16" fill="#d9363e" textLength="2.8" lengthAdjust="spacingAndGlyphs">I</text>
<line x1="303.39" y1="1088.59" x2="323" y2="1080.79" stroke="#000" stroke-width="1.25" stroke-dasharray="3.2,2.2"/>
<polygon points="329.88,1078.06 324.27,1084 321.72,1077.59" fill="#000" stroke="#000" stroke-width="0.6"/>
<line x1="337.71" y1="1075.38" x2="357.07" y2="1070.63" stroke="#000" stroke-width="1.25" stroke-dasharray="3.2,2.2"/>
<polygon points="364.25,1068.86 357.89,1073.98 356.24,1067.28" fill="#000" stroke="#000" stroke-width="0.6"/>
<line x1="371.61" y1="1065.57" x2="395.24" y2="1043.89" stroke="#000" stroke-width="1.25" stroke-dasharray="3.2,2.2"/>
<polygon points="400.69,1038.88 397.58,1046.43 392.91,1041.34" fill="#000" stroke="#000" stroke-width="0.6"/>
<line x1="303.6" y1="1089.7" x2="322.1" y2="1089.7" stroke="#000" stroke-width="1.25" stroke-dasharray="3.2,2.2"/>
<polygon points="329.5,1089.7 322.1,1093.15 322.1,1086.25" fill="#000" stroke="#000" stroke-width="0.6"/>
<line x1="336.84" y1="1087.5" x2="360.78" y2="1061.62" stroke="#000" stroke-width="1.25" stroke-dasharray="3.2,2.2"/>
<polygon points="365.8,1056.19 363.31,1063.97 358.24,1059.28" fill="#000" stroke="#000" stroke-width="0.6"/>
<line x1="370.55" y1="1049.53" x2="399.74" y2="979.03" stroke="#000" stroke-width="1.25" stroke-dasharray="3.2,2.2"/>
<polygon points="402.57,972.2 402.93,980.35 396.55,977.71" fill="#000" stroke="#000" stroke-width="0.6"/>
<line x1="303.6" y1="1089.7" x2="322.1" y2="1089.7" stroke="#000" stroke-width="1.25" stroke-dasharray="3.2,2.2"/>
<polygon points="329.5,1089.7 322.1,1093.15 322.1,1086.25" fill="#000" stroke="#000" stroke-width="0.6"/>
<line x1="337.16" y1="1087.85" x2="359.42" y2="1070.35" stroke="#000" stroke-width="1.25" stroke-dasharray="3.2,2.2"/>
<polygon points="365.23,1065.78 361.55,1073.06 357.28,1067.64" fill="#000" stroke="#000" stroke-width="0.6"/>
<line x1="371.51" y1="1060.36" x2="395.68" y2="1035.84" stroke="#000" stroke-width="1.25" stroke-dasharray="3.2,2.2"/>
<polygon points="400.88,1030.57 398.14,1038.27 393.23,1033.42" fill="#000" stroke="#000" stroke-width="0.6"/>
<line x1="303.6" y1="1089.7" x2="322.1" y2="1089.7" stroke="#000" stroke-width="1.25" stroke-dasharray="3.2,2.2"/>
<polygon points="329.5,1089.7 322.1,1093.15 322.1,1086.25" fill="#000" stroke="#000" stroke-width="0.6"/>
<line x1="337.61" y1="1088.65" x2="357.5" y2="1081.22" stroke="#000" stroke-width="1.25" stroke-dasharray="3.2,2.2"/>
<polygon points="364.43,1078.63 358.71,1084.45 356.3,1077.99" fill="#000" stroke="#000" stroke-width="0.6"/>
<line x1="372.13" y1="1075.54" x2="393.04" y2="1066.05" stroke="#000" stroke-width="1.25" stroke-dasharray="3.2,2.2"/>
<polygon points="399.77,1062.99 394.46,1069.19 391.61,1062.91" fill="#000" stroke="#000" stroke-width="0.6"/>
<rect x="295.2" y="1084.3" width="10.8" height="10.8" fill="#17b317" stroke="#000" stroke-width="1.35"/>
<polygon points="300.6,1085 305.3,1089.7 300.6,1094.4 295.9,1089.7" fill="#f21a1a" stroke="#000" stroke-width="1.35"/>
<ellipse cx="334.8" cy="1076.1" rx="5.4" ry="5.4" fill="#5b9bef" stroke="#000" stroke-width="1.35"/>
<ellipse cx="369.4" cy="1067.6" rx="5.4" ry="5.4" fill="#5b9bef" stroke="#000" stroke-width="1.35"/>
<ellipse cx="404.6" cy="1035.3" rx="5.4" ry="5.4" fill="#5b9bef" stroke="#000" stroke-width="1.35"/>
<polygon points="334.8,1083.55 340.8,1094.15 328.8,1094.15" fill="#f5a352" stroke="#000" stroke-width="1.35" stroke-linejoin="miter"/>
<polygon points="369.4,1046.15 375.4,1056.75 363.4,1056.75" fill="#f5a352" stroke="#000" stroke-width="1.35" stroke-linejoin="miter"/>
<polygon points="404.6,961.15 410.6,971.75 398.6,971.75" fill="#f5a352" stroke="#000" stroke-width="1.35" stroke-linejoin="miter"/>
<rect x="329.4" y="1084.3" width="10.8" height="10.8" fill="#17b317" stroke="#000" stroke-width="1.35"/>
<rect x="364" y="1057.1" width="10.8" height="10.8" fill="#17b317" stroke="#000" stroke-width="1.35"/>
<rect x="399.2" y="1021.4" width="10.8" height="10.8" fill="#17b317" stroke="#000" stroke-width="1.35"/>
<polygon points="334.8,1084 340.5,1089.7 334.8,1095.4 329.1,1089.7" fill="#f21a1a" stroke="#000" stroke-width="1.35"/>
<polygon points="369.4,1071.08 375.1,1076.78 369.4,1082.48 363.7,1076.78" fill="#f21a1a" stroke="#000" stroke-width="1.35"/>
<polygon points="404.6,1055.1 410.3,1060.8 404.6,1066.5 398.9,1060.8" fill="#f21a1a" stroke="#000" stroke-width="1.35"/>
<line x1="492.4" y1="952.6" x2="492.4" y2="1089.8" stroke="#000" stroke-width="1.5"/>
<line x1="491.7" y1="1089" x2="641.4" y2="1089" stroke="#000" stroke-width="1.5"/>
<line x1="485.9" y1="1089" x2="492.4" y2="1089" stroke="#000" stroke-width="1.3"/>
<text x="483.1" y="1094.4" font-size="15.3" fill="#404040" text-anchor="end" textLength="20.2" lengthAdjust="spacingAndGlyphs">0.0</text>
<line x1="488.9" y1="1072.01" x2="492.4" y2="1072.01" stroke="#000" stroke-width="1.3"/>
<line x1="485.9" y1="1055.03" x2="492.4" y2="1055.03" stroke="#000" stroke-width="1.3"/>
<text x="483.1" y="1060.43" font-size="15.3" fill="#404040" text-anchor="end" textLength="20.2" lengthAdjust="spacingAndGlyphs">0.5</text>
<line x1="488.9" y1="1038.04" x2="492.4" y2="1038.04" stroke="#000" stroke-width="1.3"/>
<line x1="485.9" y1="1021.05" x2="492.4" y2="1021.05" stroke="#000" stroke-width="1.3"/>
<text x="483.1" y="1026.45" font-size="15.3" fill="#404040" text-anchor="end" textLength="20.2" lengthAdjust="spacingAndGlyphs">1.0</text>
<line x1="488.9" y1="1004.06" x2="492.4" y2="1004.06" stroke="#000" stroke-width="1.3"/>
<line x1="485.9" y1="987.08" x2="492.4" y2="987.08" stroke="#000" stroke-width="1.3"/>
<text x="483.1" y="992.48" font-size="15.3" fill="#404040" text-anchor="end" textLength="20.2" lengthAdjust="spacingAndGlyphs">1.5</text>
<line x1="488.9" y1="970.09" x2="492.4" y2="970.09" stroke="#000" stroke-width="1.3"/>
<line x1="485.9" y1="953.1" x2="492.4" y2="953.1" stroke="#000" stroke-width="1.3"/>
<text x="483.1" y="958.5" font-size="15.3" fill="#404040" text-anchor="end" textLength="20.2" lengthAdjust="spacingAndGlyphs">2.0</text>
<line x1="515.4" y1="1089" x2="515.4" y2="1095" stroke="#000" stroke-width="1.3"/>
<line x1="550" y1="1089" x2="550" y2="1095" stroke="#000" stroke-width="1.3"/>
<line x1="584.3" y1="1089" x2="584.3" y2="1095" stroke="#000" stroke-width="1.3"/>
<line x1="618.9" y1="1089" x2="618.9" y2="1095" stroke="#000" stroke-width="1.3"/>
<text x="515.4" y="1112.5" font-size="14.5" fill="#404040" text-anchor="middle">0</text>
<text x="550" y="1112.5" font-size="14.5" fill="#404040" text-anchor="middle">1</text>
<text x="584.3" y="1112.5" font-size="14.5" fill="#404040" text-anchor="middle">5</text>
<text x="618.9" y="1112.5" font-size="14.5" fill="#404040" text-anchor="middle">10</text>
<text x="630.4" y="1112.5" font-size="14.5" fill="#404040" textLength="30" lengthAdjust="spacingAndGlyphs">(μM)</text>
<text x="567.45" y="1127.5" font-size="14.5" fill="#404040" text-anchor="middle" textLength="98.5" lengthAdjust="spacingAndGlyphs">Antibiotic conc.</text>
<text x="455" y="1016" font-size="14.5" fill="#404040" text-anchor="middle" textLength="147" lengthAdjust="spacingAndGlyphs" transform="rotate(-90 455 1016)">% of protein expression</text>
<text x="498.2" y="951.8" font-size="16" fill="#404040" textLength="102.2" lengthAdjust="spacingAndGlyphs">A0A151YMH5</text>
<text x="605.9" y="951.8" font-size="16" fill="#d9363e" textLength="8.3" lengthAdjust="spacingAndGlyphs">II</text>
<line x1="518.39" y1="1088.71" x2="537.36" y2="1086.84" stroke="#000" stroke-width="1.25" stroke-dasharray="3.2,2.2"/>
<polygon points="544.73,1086.12 537.7,1090.28 537.02,1083.41" fill="#000" stroke="#000" stroke-width="0.6"/>
<line x1="552.95" y1="1085.08" x2="571.8" y2="1081.72" stroke="#000" stroke-width="1.25" stroke-dasharray="3.2,2.2"/>
<polygon points="579.08,1080.42 572.4,1085.11 571.19,1078.32" fill="#000" stroke="#000" stroke-width="0.6"/>
<line x1="586.17" y1="1077.14" x2="610.99" y2="1045.94" stroke="#000" stroke-width="1.25" stroke-dasharray="3.2,2.2"/>
<polygon points="615.6,1040.15 613.69,1048.09 608.29,1043.79" fill="#000" stroke="#000" stroke-width="0.6"/>
<line x1="518.34" y1="1088.42" x2="537.54" y2="1084.65" stroke="#000" stroke-width="1.25" stroke-dasharray="3.2,2.2"/>
<polygon points="544.8,1083.23 538.2,1088.04 536.87,1081.27" fill="#000" stroke="#000" stroke-width="0.6"/>
<line x1="552.92" y1="1081.51" x2="571.94" y2="1076.99" stroke="#000" stroke-width="1.25" stroke-dasharray="3.2,2.2"/>
<polygon points="579.14,1075.28 572.74,1080.34 571.15,1073.63" fill="#000" stroke="#000" stroke-width="0.6"/>
<line x1="585.15" y1="1071.17" x2="615.31" y2="968.68" stroke="#000" stroke-width="1.25" stroke-dasharray="3.2,2.2"/>
<polygon points="617.4,961.58 618.62,969.65 612,967.71" fill="#000" stroke="#000" stroke-width="0.6"/>
<ellipse cx="515.4" cy="1089" rx="5.4" ry="5.4" fill="#9dc3f3" stroke="#000" stroke-width="1.35"/>
<polygon points="515.4,1082.85 521.4,1093.45 509.4,1093.45" fill="#f5a352" stroke="#000" stroke-width="1.35" stroke-linejoin="miter"/>
<ellipse cx="550" cy="1085.6" rx="5.4" ry="5.4" fill="#9dc3f3" stroke="#000" stroke-width="1.35"/>
<ellipse cx="584.3" cy="1079.49" rx="5.4" ry="5.4" fill="#9dc3f3" stroke="#000" stroke-width="1.35"/>
<ellipse cx="618.9" cy="1036" rx="5.4" ry="5.4" fill="#9dc3f3" stroke="#000" stroke-width="1.35"/>
<polygon points="550,1076.06 556,1086.66 544,1086.66" fill="#f5a352" stroke="#000" stroke-width="1.35" stroke-linejoin="miter"/>
<polygon points="584.3,1067.9 590.3,1078.5 578.3,1078.5" fill="#f5a352" stroke="#000" stroke-width="1.35" stroke-linejoin="miter"/>
<polygon points="618.9,950.35 624.9,960.95 612.9,960.95" fill="#f5a352" stroke="#000" stroke-width="1.35" stroke-linejoin="miter"/>
</svg></body></html>
